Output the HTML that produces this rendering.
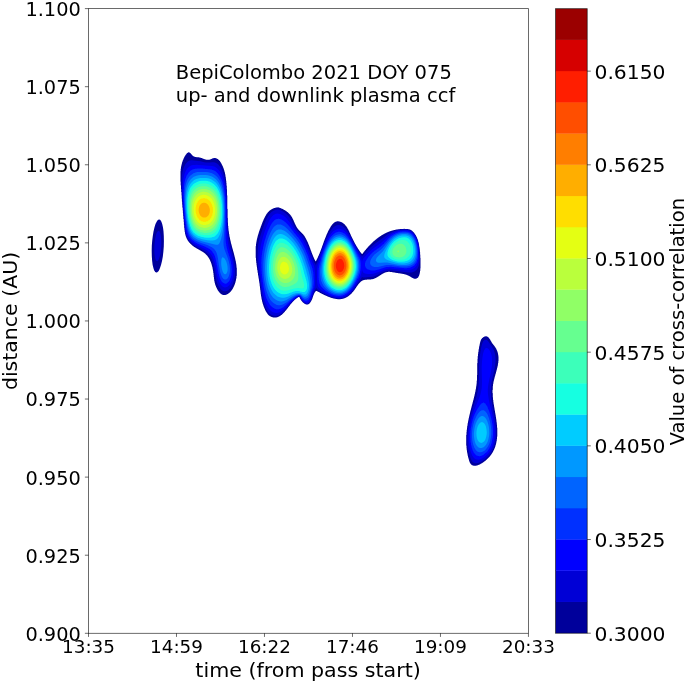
<!DOCTYPE html>
<html lang="en"><head><meta charset="utf-8"><title>BepiColombo 2021 DOY 075 up- and downlink plasma ccf</title>
<style>
html,body{margin:0;padding:0;background:#fff;}
body{width:685px;height:683px;overflow:hidden;}
svg{display:block;}
text{font-family:"DejaVu Sans","Liberation Sans",sans-serif;fill:#000;}
.yt{font-size:19.35px;text-anchor:end;}
.xt{font-size:18.35px;text-anchor:middle;}
.ct{font-size:20.3px;text-anchor:start;}
.ttl{font-size:19.5px;}
.sp{stroke:#000;stroke-opacity:.73;stroke-width:0.8;fill:none;}
</style></head><body>
<svg width="685" height="683" viewBox="0 0 685 683">
<rect width="685" height="683" fill="#fff"/>
<defs><filter id="soft" x="-5%" y="-5%" width="110%" height="110%"><feGaussianBlur stdDeviation="0.45"/></filter></defs>
<g id="ccf" filter="url(#soft)">
<path fill="#00009b" d="M225.5 295.0 223.0 295.0 222.8 294.8 222.2 294.8 222.0 294.5 221.8 294.5 221.2 294.0 221.0 294.0 219.0 292.0 219.0 291.8 218.2 291.0 218.2 290.8 217.7 290.2 217.7 290.0 217.5 289.8 217.5 289.5 217.2 289.2 217.2 289.0 217.0 288.8 217.0 288.5 216.7 288.2 216.7 288.0 216.5 287.8 216.5 287.5 216.2 287.2 216.2 287.0 216.0 286.8 216.0 286.2 215.7 286.0 215.7 285.8 215.5 285.5 215.5 285.0 215.2 284.8 215.2 284.2 215.0 284.0 215.0 283.2 214.7 283.0 214.7 282.2 214.5 282.0 214.5 281.0 214.2 280.8 214.2 279.2 214.0 279.0 214.0 277.2 213.7 277.0 213.7 275.0 213.5 274.8 213.5 273.0 213.2 272.8 213.2 271.2 213.0 271.0 213.0 269.8 212.7 269.5 212.7 268.5 212.5 268.2 212.5 267.2 212.2 267.0 212.2 266.2 212.0 266.0 212.0 265.5 211.7 265.2 211.7 264.5 211.5 264.2 211.5 263.8 211.2 263.5 211.2 263.0 211.0 262.8 211.0 262.2 210.7 262.0 210.7 261.8 210.5 261.5 210.5 261.2 210.2 261.0 210.2 260.5 210.0 260.2 210.0 260.0 209.7 259.8 209.7 259.5 209.5 259.2 209.5 259.0 209.0 258.5 209.0 258.2 208.7 258.0 208.7 257.8 208.2 257.2 208.2 257.0 207.5 256.2 207.5 256.0 206.2 254.8 204.8 253.3 204.5 253.3 203.8 252.5 203.5 252.5 203.0 252.0 202.8 252.0 202.2 251.5 202.0 251.5 201.8 251.3 201.5 251.3 201.0 250.8 200.8 250.8 200.5 250.5 200.2 250.5 200.0 250.3 199.8 250.3 199.2 249.8 199.0 249.8 198.8 249.5 198.5 249.5 198.2 249.3 198.0 249.3 197.8 249.0 197.5 249.0 197.0 248.5 196.8 248.5 196.5 248.3 196.2 248.3 195.8 247.8 195.5 247.8 195.2 247.5 195.0 247.5 194.5 247.0 194.2 247.0 193.8 246.5 193.5 246.5 192.8 245.8 192.5 245.8 190.8 244.0 190.5 244.0 190.5 243.8 189.0 242.2 189.0 242.0 188.2 241.2 188.2 241.0 187.7 240.5 187.7 240.2 187.5 240.0 187.5 239.8 187.0 239.2 187.0 239.0 186.7 238.8 186.7 238.2 186.5 238.0 186.5 237.8 186.2 237.5 186.2 237.2 186.0 237.0 186.0 236.5 185.7 236.2 185.7 235.8 185.5 235.5 185.5 234.8 185.2 234.5 185.2 233.8 185.0 233.5 185.0 232.2 184.7 232.0 184.7 230.5 184.5 230.2 184.4 228.0 184.2 227.8 184.2 225.0 183.9 224.8 183.9 222.0 183.7 221.8 183.7 219.2 183.4 219.0 183.4 216.2 183.2 216.0 183.2 213.5 182.9 213.2 182.9 210.5 182.7 210.2 182.7 207.8 182.4 207.5 182.4 204.8 182.2 204.5 182.2 201.8 181.9 201.5 181.9 198.8 181.7 198.5 181.7 195.5 181.5 195.2 181.5 192.2 181.2 192.0 181.2 189.0 181.0 188.8 181.0 185.5 180.7 185.2 180.7 181.8 180.5 181.5 180.5 171.2 180.7 171.0 180.7 168.8 181.0 168.5 181.0 167.0 181.2 166.8 181.2 165.8 181.5 165.5 181.5 164.8 181.7 164.5 181.7 163.8 182.0 163.5 182.0 162.8 182.2 162.5 182.2 162.0 182.5 161.8 182.5 161.2 182.7 161.0 182.7 160.5 183.0 160.2 183.0 160.0 183.2 159.8 183.2 159.5 183.5 159.2 183.5 158.8 183.7 158.5 183.7 158.2 184.0 158.0 184.0 157.8 184.2 157.5 184.2 157.2 184.5 157.0 184.5 156.8 184.7 156.5 184.7 156.2 185.2 155.8 185.2 155.5 185.7 155.0 185.7 154.8 186.5 154.0 186.5 153.8 187.2 153.0 187.5 153.0 188.0 152.5 188.2 152.5 188.5 152.2 189.0 152.2 189.2 152.5 189.5 152.5 189.8 152.7 190.0 152.7 191.5 154.2 191.5 154.5 191.8 154.8 193.0 156.0 193.2 156.0 193.8 156.5 194.2 156.5 194.5 156.7 194.8 156.7 195.0 157.0 196.2 157.0 196.5 157.2 198.8 157.2 199.0 157.5 200.0 157.5 200.2 157.7 201.0 157.7 201.2 158.0 201.8 158.0 202.0 158.2 202.2 158.2 202.5 158.5 203.0 158.5 203.2 158.7 203.5 158.7 203.8 159.0 204.2 159.0 204.5 159.2 205.0 159.2 205.2 159.5 206.0 159.5 206.2 159.7 209.5 159.7 209.8 159.5 210.2 159.5 210.5 159.2 211.0 159.2 211.2 159.0 211.5 159.0 211.8 158.7 212.0 158.7 212.2 158.5 212.5 158.5 212.8 158.2 213.5 158.2 213.8 158.0 215.5 158.0 215.8 158.2 216.2 158.2 216.5 158.5 216.8 158.5 217.0 158.7 217.2 158.7 217.5 159.0 217.8 159.0 220.0 161.2 220.0 161.5 220.5 162.0 220.5 162.2 221.0 162.8 221.0 163.0 221.3 163.2 221.3 163.5 221.5 163.8 221.5 164.0 221.8 164.2 221.8 164.5 222.0 164.8 222.0 165.0 222.3 165.2 222.3 165.5 222.5 165.8 222.5 166.0 222.8 166.2 222.8 166.5 223.0 166.8 223.0 167.2 223.3 167.5 223.3 167.8 223.5 168.0 223.5 168.5 223.8 168.8 223.8 169.2 224.0 169.5 224.0 170.0 224.3 170.2 224.3 171.0 224.5 171.2 224.5 171.8 224.8 172.0 224.8 172.8 225.0 173.0 225.0 174.0 225.3 174.2 225.3 175.2 225.5 175.5 225.5 176.8 225.8 177.0 225.8 178.5 226.0 178.8 226.0 180.5 226.3 180.8 226.3 182.8 226.5 183.0 226.5 185.5 226.8 185.8 226.8 189.2 227.0 189.5 227.0 195.2 227.3 195.5 227.3 208.8 227.6 209.0 227.6 217.8 227.8 218.0 227.8 222.5 228.0 222.8 228.0 225.8 228.3 226.0 228.3 228.2 228.5 228.5 228.5 230.5 228.8 230.8 228.8 232.2 229.0 232.5 229.0 234.0 229.3 234.2 229.3 235.5 229.5 235.8 229.5 236.8 229.8 237.0 229.8 238.0 230.0 238.2 230.0 239.2 230.3 239.5 230.3 240.2 230.5 240.5 230.5 241.2 230.8 241.5 230.8 242.5 231.0 242.8 231.0 243.5 231.3 243.8 231.3 244.2 231.5 244.5 231.5 245.2 231.8 245.5 231.8 246.2 232.0 246.5 232.0 247.2 232.3 247.5 232.3 248.0 232.5 248.2 232.5 249.0 232.8 249.2 232.8 249.8 233.0 250.0 233.0 250.8 233.3 251.0 233.3 251.8 233.5 252.0 233.5 252.5 233.8 252.8 233.8 253.5 234.0 253.8 234.0 254.5 234.3 254.8 234.3 255.5 234.5 255.8 234.5 256.5 234.8 256.8 234.8 257.5 235.0 257.8 235.0 258.5 235.3 258.8 235.3 259.8 235.5 260.0 235.5 260.8 235.8 261.0 235.8 262.2 236.0 262.5 236.0 263.5 236.3 263.8 236.3 265.2 236.5 265.5 236.5 267.5 236.8 267.8 236.8 275.8 236.5 276.0 236.5 277.8 236.3 278.0 236.3 279.0 236.0 279.2 236.0 280.2 235.8 280.5 235.8 281.2 235.5 281.5 235.5 282.2 235.3 282.5 235.3 283.0 235.0 283.2 235.0 283.8 234.8 284.0 234.8 284.5 234.5 284.8 234.5 285.0 234.3 285.2 234.3 285.8 234.0 286.0 234.0 286.2 233.8 286.5 233.8 286.8 233.5 287.0 233.5 287.2 233.3 287.5 233.3 287.8 233.0 288.0 233.0 288.2 232.8 288.5 232.8 288.8 232.3 289.2 232.3 289.5 231.8 290.0 231.8 290.2 231.0 291.0 231.0 291.2 229.2 293.0 229.0 293.0 228.2 293.8 228.0 293.8 227.8 294.0 227.5 294.0 227.0 294.5 226.5 294.5 226.2 294.8 225.8 294.8ZM276.5 317.5 273.2 317.5 273.0 317.3 272.2 317.3 272.0 317.0 271.5 317.0 271.2 316.8 271.0 316.8 270.8 316.5 270.5 316.5 270.2 316.3 270.0 316.3 269.5 315.8 269.2 315.8 267.7 314.2 267.7 314.0 267.0 313.2 267.0 313.0 266.5 312.5 266.5 312.2 266.2 312.0 266.2 311.8 265.7 311.2 265.7 311.0 265.5 310.8 265.5 310.5 265.2 310.2 265.2 310.0 265.0 309.8 265.0 309.2 264.7 309.0 264.7 308.8 264.5 308.5 264.5 308.2 264.2 308.0 264.2 307.5 264.0 307.2 264.0 307.0 263.7 306.8 263.7 306.2 263.5 306.0 263.5 305.5 263.2 305.2 263.2 304.8 263.0 304.5 263.0 304.0 262.7 303.8 262.7 303.2 262.5 303.0 262.5 302.2 262.2 302.0 262.2 301.2 262.0 301.0 262.0 300.0 261.7 299.8 261.7 299.0 261.5 298.8 261.5 297.5 261.2 297.2 261.2 296.0 261.0 295.8 261.0 294.5 260.7 294.2 260.7 292.5 260.5 292.2 260.5 290.5 260.2 290.2 260.2 288.5 260.0 288.2 260.0 286.5 259.7 286.2 259.7 284.5 259.5 284.2 259.5 282.8 259.2 282.5 259.2 281.2 259.0 281.0 259.0 279.5 258.7 279.2 258.7 278.0 258.5 277.8 258.5 276.5 258.2 276.2 258.2 275.0 258.0 274.8 258.0 273.2 257.7 273.0 257.7 271.8 257.5 271.5 257.5 270.2 257.2 270.0 257.2 268.5 257.0 268.2 257.0 266.8 256.7 266.5 256.7 265.0 256.5 264.8 256.5 263.0 256.2 262.8 256.2 260.8 256.0 260.5 256.0 258.0 255.7 257.8 255.7 246.2 256.0 246.0 256.0 244.0 256.2 243.8 256.2 242.5 256.5 242.2 256.5 241.0 256.7 240.8 256.7 239.8 257.0 239.5 257.0 238.8 257.2 238.5 257.2 237.8 257.5 237.5 257.5 236.8 257.7 236.5 257.7 235.8 258.0 235.5 258.0 235.0 258.2 234.8 258.2 234.2 258.5 234.0 258.5 233.2 258.7 233.0 258.7 232.5 259.0 232.2 259.0 231.8 259.2 231.5 259.2 231.0 259.5 230.8 259.5 230.2 259.7 230.0 259.7 229.5 260.0 229.2 260.0 229.0 260.2 228.8 260.2 228.2 260.5 228.0 260.5 227.5 260.7 227.2 260.7 226.8 261.0 226.5 261.0 226.2 261.2 226.0 261.2 225.5 261.5 225.2 261.5 224.8 261.7 224.5 261.7 224.2 262.0 224.0 262.0 223.5 262.2 223.2 262.2 222.8 262.5 222.5 262.5 222.2 262.7 222.0 262.7 221.5 263.0 221.2 263.0 221.0 263.2 220.8 263.2 220.5 263.5 220.2 263.5 219.8 263.7 219.5 263.7 219.2 264.0 219.0 264.0 218.8 264.2 218.5 264.2 218.2 264.5 218.0 264.5 217.8 264.7 217.5 264.7 217.2 265.0 217.0 265.0 216.8 265.2 216.5 265.2 216.2 265.5 216.0 265.5 215.8 266.0 215.2 266.0 215.0 266.2 214.8 266.2 214.5 266.7 214.0 266.7 213.8 267.5 213.0 267.5 212.8 270.0 210.2 270.2 210.2 270.8 209.7 271.0 209.7 271.5 209.2 271.8 209.2 272.0 209.0 272.2 209.0 272.5 208.7 272.8 208.7 273.0 208.5 273.2 208.5 273.5 208.2 274.0 208.2 274.2 208.0 274.8 208.0 275.0 207.7 275.8 207.7 276.0 207.5 277.5 207.5 277.8 207.2 278.2 207.2 278.5 207.5 279.0 207.5 279.2 207.7 279.8 207.7 280.0 208.0 280.5 208.0 280.8 208.2 281.0 208.2 281.2 208.5 281.5 208.5 281.8 208.7 282.2 208.7 282.5 209.0 282.8 209.0 283.0 209.2 283.2 209.2 283.8 209.7 284.0 209.7 284.2 210.0 284.5 210.0 284.8 210.2 285.0 210.2 285.5 210.7 285.8 210.7 286.2 211.2 286.5 211.2 287.2 212.0 287.5 212.0 290.5 215.0 290.5 215.2 291.3 216.0 291.3 216.2 291.5 216.5 291.5 216.8 292.0 217.2 292.0 217.5 292.3 217.8 292.3 218.0 292.5 218.2 292.5 218.5 292.8 218.8 292.8 219.0 293.0 219.2 293.0 219.5 293.3 219.8 293.3 220.0 293.5 220.2 293.5 220.5 293.8 220.8 293.8 221.2 294.0 221.5 294.0 221.8 294.3 222.0 294.3 222.2 294.5 222.5 294.5 223.0 294.8 223.2 294.8 223.5 295.0 223.8 295.0 224.0 295.3 224.2 295.3 224.5 295.5 224.8 295.5 225.0 295.8 225.2 295.8 225.5 296.0 225.8 296.0 226.0 296.3 226.2 296.3 226.5 296.5 226.8 296.5 227.0 297.0 227.5 297.0 227.8 297.5 228.2 297.5 228.5 298.3 229.2 298.3 229.5 303.5 234.8 303.5 235.0 304.3 235.8 304.3 236.0 304.8 236.5 304.8 236.8 305.0 237.0 305.0 237.2 305.5 237.8 305.5 238.0 305.8 238.2 305.8 238.5 306.0 238.8 306.0 239.0 306.3 239.2 306.3 239.5 306.5 239.8 306.5 240.0 306.8 240.2 306.8 240.5 307.0 240.8 307.0 241.0 307.3 241.2 307.3 241.5 307.5 241.8 307.5 242.0 307.8 242.2 307.8 242.5 308.0 242.8 308.0 243.2 308.3 243.5 308.3 243.8 308.5 244.0 308.5 244.5 308.8 244.8 308.8 245.0 309.0 245.2 309.0 245.8 309.3 246.0 309.3 246.2 309.5 246.5 309.5 247.0 309.8 247.2 309.8 247.8 310.0 248.0 310.0 248.2 310.3 248.5 310.3 249.0 310.5 249.2 310.5 249.8 310.8 250.0 310.8 250.5 311.0 250.8 311.0 251.0 311.3 251.2 311.3 251.8 311.5 252.0 311.5 252.5 311.8 252.8 311.8 253.0 312.0 253.2 312.0 253.8 312.3 254.0 312.3 254.2 312.5 254.5 312.5 255.0 312.8 255.2 312.8 255.5 313.0 255.8 313.0 256.2 313.3 256.5 313.3 256.8 313.5 257.0 313.5 257.2 313.8 257.5 313.8 258.0 314.0 258.2 314.0 258.5 314.3 258.8 314.3 259.0 314.5 259.2 314.5 259.5 314.8 259.8 314.8 260.0 315.0 260.2 315.0 260.5 315.3 260.8 315.3 261.0 315.5 261.2 315.8 261.2 316.2 260.8 316.2 260.5 316.5 260.2 316.5 260.0 316.7 259.8 316.7 259.5 317.0 259.2 317.0 259.0 317.2 258.8 317.2 258.5 317.5 258.2 317.5 258.0 317.7 257.8 317.7 257.5 318.0 257.2 318.0 256.8 318.2 256.5 318.2 256.2 318.5 256.0 318.5 255.8 318.7 255.5 318.7 255.2 319.0 255.0 319.0 254.5 319.2 254.2 319.2 254.0 319.5 253.8 319.5 253.5 319.7 253.2 319.7 252.8 320.0 252.5 320.0 252.2 320.2 252.0 320.2 251.5 320.5 251.2 320.5 250.8 320.7 250.5 320.7 250.2 321.0 250.0 321.0 249.5 321.2 249.2 321.2 248.8 321.5 248.5 321.5 248.2 321.7 248.0 321.7 247.5 322.0 247.2 322.0 246.8 322.2 246.5 322.2 246.0 322.5 245.8 322.5 245.2 322.7 245.0 322.7 244.8 323.0 244.5 323.0 244.0 323.2 243.8 323.2 243.2 323.5 243.0 323.5 242.5 323.7 242.2 323.7 241.8 324.0 241.5 324.0 241.2 324.2 241.0 324.2 240.5 324.5 240.2 324.5 239.8 324.7 239.5 324.7 239.2 325.0 239.0 325.0 238.5 325.2 238.2 325.2 238.0 325.5 237.8 325.5 237.2 325.7 237.0 325.7 236.8 326.0 236.5 326.0 236.0 326.2 235.8 326.2 235.5 326.5 235.2 326.5 234.8 326.7 234.5 326.7 234.2 327.0 234.0 327.0 233.8 327.2 233.5 327.2 233.2 327.5 233.0 327.5 232.8 327.7 232.5 327.7 232.0 328.0 231.8 328.0 231.5 328.2 231.2 328.2 231.0 328.5 230.8 328.5 230.5 328.7 230.2 328.7 230.0 329.2 229.5 329.2 229.2 329.5 229.0 329.5 228.8 329.7 228.5 329.7 228.2 330.0 228.0 330.0 227.8 330.5 227.2 330.5 227.0 330.7 226.8 330.7 226.5 331.2 226.0 331.2 225.8 332.0 225.0 332.0 224.8 334.2 222.5 334.5 222.5 335.0 222.0 335.2 222.0 335.5 221.7 336.0 221.7 336.2 221.5 337.0 221.5 337.2 221.2 338.5 221.2 338.8 221.5 339.8 221.5 340.0 221.7 340.5 221.7 340.8 222.0 341.2 222.0 341.5 222.2 341.8 222.2 342.0 222.5 342.2 222.5 342.8 223.0 343.0 223.0 344.0 224.0 344.2 224.0 345.0 224.8 345.0 225.0 346.3 226.2 346.3 226.5 346.8 227.0 346.8 227.2 347.3 227.8 347.3 228.0 347.5 228.2 347.5 228.5 347.8 228.8 347.8 229.0 348.3 229.5 348.3 229.8 348.5 230.0 348.5 230.2 348.8 230.5 348.8 230.8 349.0 231.0 349.0 231.2 349.3 231.5 349.3 231.8 349.5 232.0 349.5 232.5 349.8 232.8 349.8 233.0 350.0 233.2 350.0 233.5 350.3 233.8 350.3 234.0 350.5 234.2 350.5 234.5 350.8 234.8 350.8 235.2 351.0 235.5 351.0 235.8 351.3 236.0 351.3 236.2 351.5 236.5 351.5 236.8 351.8 237.0 351.8 237.2 352.0 237.5 352.0 237.8 352.3 238.0 352.3 238.2 352.5 238.5 352.5 238.8 352.8 239.0 352.8 239.2 353.0 239.5 353.0 239.8 353.3 240.0 353.3 240.2 353.5 240.5 353.5 240.8 353.8 241.0 353.8 241.2 354.0 241.5 354.0 241.8 354.3 242.0 354.3 242.2 354.5 242.5 354.5 242.8 354.8 243.0 354.8 243.2 355.0 243.5 355.0 243.8 355.5 244.2 355.5 244.5 355.8 244.8 355.8 245.0 356.0 245.2 356.0 245.5 356.5 246.0 356.5 246.2 356.8 246.5 356.8 246.8 357.3 247.2 357.3 247.5 357.5 247.8 357.5 248.0 358.0 248.5 358.0 248.8 358.5 249.2 358.5 249.5 359.0 250.0 359.0 250.2 359.5 250.8 359.5 251.0 360.0 251.5 360.0 251.8 360.8 252.5 360.8 252.8 362.0 254.0 362.2 254.0 363.0 253.2 363.0 253.0 363.7 252.2 363.7 252.0 364.7 251.0 364.7 250.8 366.0 249.5 366.0 249.2 367.7 247.5 367.7 247.2 374.2 240.7 374.5 240.7 375.8 239.5 376.0 239.5 377.0 238.5 377.2 238.5 378.0 237.7 378.2 237.7 379.0 237.0 379.2 237.0 379.8 236.5 380.0 236.5 380.5 236.0 380.8 236.0 381.2 235.5 381.5 235.5 382.0 235.0 382.2 235.0 382.5 234.7 382.8 234.7 383.0 234.5 383.2 234.5 383.8 234.0 384.0 234.0 384.2 233.7 384.5 233.7 384.8 233.5 385.0 233.5 385.2 233.2 385.5 233.2 385.8 233.0 386.0 233.0 386.2 232.7 386.5 232.7 386.8 232.5 387.0 232.5 387.2 232.2 387.8 232.2 388.0 232.0 388.2 232.0 388.5 231.7 389.0 231.7 389.2 231.5 389.5 231.5 389.8 231.2 390.2 231.2 390.5 231.0 391.0 231.0 391.2 230.7 392.0 230.7 392.2 230.5 392.8 230.5 393.0 230.2 393.8 230.2 394.0 230.0 394.8 230.0 395.0 229.7 396.0 229.7 396.2 229.5 397.5 229.5 397.8 229.2 399.5 229.2 399.8 229.0 403.5 229.0 403.8 228.7 404.0 228.7 404.5 228.7 404.8 229.0 408.0 229.0 408.2 229.2 409.2 229.2 409.5 229.5 410.0 229.5 410.2 229.7 410.5 229.7 410.8 230.0 411.0 230.0 411.5 230.5 411.8 230.5 414.3 233.0 414.3 233.2 414.8 233.8 414.8 234.0 415.3 234.5 415.3 234.8 415.8 235.2 415.8 235.5 416.1 235.8 416.1 236.0 416.3 236.2 416.3 236.5 416.6 236.8 416.6 237.0 416.8 237.2 416.8 237.5 417.1 237.8 417.1 238.2 417.3 238.5 417.3 238.8 417.6 239.0 417.6 239.5 417.8 239.8 417.8 240.2 418.1 240.5 418.1 241.2 418.3 241.5 418.3 242.0 418.6 242.2 418.6 243.0 418.8 243.2 418.8 244.2 419.1 244.5 419.1 245.8 419.3 246.0 419.3 247.2 419.6 247.5 419.6 249.2 419.8 249.5 419.8 251.5 420.1 251.8 420.1 254.5 420.3 254.8 420.3 257.8 420.5 258.0 420.5 268.2 420.3 268.5 420.3 270.8 420.0 271.0 420.0 272.2 419.8 272.5 419.8 273.5 419.5 273.8 419.5 274.5 419.3 274.8 419.3 275.2 419.0 275.5 419.0 275.8 418.8 276.0 418.8 276.2 418.5 276.5 418.5 276.8 418.3 277.0 418.3 277.2 417.5 278.0 417.2 278.0 416.8 278.5 416.2 278.5 416.0 278.8 415.8 278.8 414.2 278.8 414.0 278.5 413.5 278.5 413.2 278.3 413.0 278.3 412.8 278.0 412.5 278.0 412.2 277.8 412.0 277.8 411.8 277.5 411.5 277.5 411.0 277.0 410.8 277.0 410.2 276.5 410.0 276.5 409.8 276.3 409.5 276.3 409.2 276.0 409.0 276.0 408.8 275.8 408.5 275.8 408.2 275.5 408.0 275.5 407.8 275.3 407.2 275.3 407.0 275.0 406.8 275.0 406.5 274.8 406.0 274.8 405.8 274.5 405.0 274.5 404.8 274.3 404.0 274.3 403.8 274.0 402.8 274.0 402.5 273.8 401.5 273.8 401.2 273.5 399.8 273.5 399.5 273.3 398.0 273.3 397.8 273.0 396.5 273.0 396.2 272.8 395.0 272.8 394.8 272.5 393.5 272.5 393.2 272.3 392.0 272.3 391.8 272.0 390.0 272.0 389.8 271.8 388.2 271.8 388.0 272.0 386.8 272.0 386.5 272.3 385.8 272.3 385.5 272.5 385.0 272.5 384.8 272.8 384.5 272.8 384.2 273.0 384.0 273.0 383.8 273.3 383.5 273.3 383.2 273.5 383.0 273.5 382.8 273.8 382.5 273.8 382.0 274.3 381.8 274.3 381.5 274.5 381.2 274.5 380.8 275.0 380.5 275.0 380.0 275.5 379.8 275.5 379.2 276.0 379.0 276.0 378.5 276.5 378.2 276.5 378.0 276.8 377.8 276.8 377.2 277.3 377.0 277.3 376.8 277.5 376.5 277.5 376.2 277.8 376.0 277.8 375.8 278.0 375.5 278.0 375.2 278.3 375.0 278.3 374.8 278.5 374.2 278.5 374.0 278.8 373.8 278.8 373.5 279.0 372.8 279.0 372.5 279.3 371.2 279.3 371.0 279.5 367.0 279.5 366.8 279.8 364.8 279.8 364.5 280.0 363.8 280.0 363.5 280.3 363.0 280.3 362.8 280.5 362.5 280.5 362.2 280.8 362.0 280.8 361.5 281.3 361.2 281.3 358.3 284.2 358.3 284.5 357.8 285.0 357.8 285.2 357.0 286.0 357.0 286.2 356.5 286.8 356.5 287.0 356.0 287.5 356.0 287.8 355.5 288.2 355.5 288.5 355.0 289.0 355.0 289.2 354.3 290.0 354.3 290.2 353.5 291.0 353.5 291.2 352.0 292.8 352.0 293.0 350.5 294.5 350.2 294.5 349.0 295.8 348.8 295.8 348.0 296.5 347.8 296.5 347.2 297.0 347.0 297.0 346.8 297.3 346.5 297.3 346.2 297.5 346.0 297.5 345.8 297.8 345.5 297.8 345.2 298.0 345.0 298.0 344.8 298.3 344.2 298.3 344.0 298.5 343.5 298.5 343.2 298.8 342.5 298.8 342.2 299.0 340.8 299.0 340.5 299.3 337.5 299.3 337.2 299.0 335.8 299.0 335.5 298.8 334.5 298.8 334.2 298.5 333.2 298.5 333.0 298.3 332.5 298.3 332.2 298.0 331.5 298.0 331.2 297.8 330.8 297.8 330.5 297.5 330.2 297.5 330.0 297.3 329.5 297.3 329.2 297.0 328.8 297.0 328.5 296.8 328.2 296.8 328.0 296.5 327.5 296.5 327.2 296.3 327.0 296.3 326.8 296.0 326.5 296.0 326.2 295.8 326.0 295.8 325.8 295.5 325.2 295.5 325.0 295.3 324.8 295.3 324.5 295.0 324.2 295.0 324.0 294.8 323.8 294.8 323.5 294.5 323.2 294.5 323.0 294.3 322.8 294.3 322.5 294.0 322.2 294.0 322.0 293.8 321.8 293.8 321.5 293.5 321.2 293.5 321.0 293.3 320.8 293.3 320.5 293.0 320.2 293.0 319.8 292.5 319.5 292.5 319.2 292.3 319.0 292.3 318.8 292.0 318.5 292.0 318.2 291.8 318.0 291.8 317.8 291.5 317.5 291.5 317.2 291.3 317.0 291.3 316.8 291.0 316.0 291.0 315.0 292.0 315.0 292.2 314.5 292.8 314.5 293.0 314.3 293.2 314.3 293.5 314.0 293.8 314.0 294.0 313.8 294.2 313.8 294.8 313.5 295.0 313.5 295.2 313.3 295.5 313.3 296.0 313.0 296.2 313.0 296.8 312.8 297.0 312.8 297.5 312.5 297.8 312.5 298.2 312.3 298.5 312.3 299.0 312.0 299.2 312.0 299.5 311.8 299.8 311.8 300.0 311.5 300.2 311.5 300.5 311.3 300.8 311.3 301.0 311.0 301.2 311.0 301.5 310.5 302.0 310.5 302.2 309.8 303.0 309.8 303.2 309.2 303.8 309.0 303.8 308.5 304.3 308.2 304.3 308.0 304.5 307.0 304.5 306.0 304.5 305.8 304.3 305.5 304.3 305.2 304.0 305.0 304.0 304.8 303.8 304.5 303.8 303.5 302.8 303.2 302.8 302.8 302.3 302.4 302.0 302.4 301.8 301.4 300.8 301.4 300.5 300.9 300.0 300.9 299.8 300.4 299.2 300.4 299.0 300.2 298.8 300.2 298.5 299.9 298.2 299.9 298.0 299.7 297.8 299.7 297.5 299.4 297.2 299.4 297.0 299.2 296.8 299.0 296.8 298.8 297.1 298.5 297.1 298.2 297.3 298.0 297.3 297.5 297.8 297.2 297.8 296.5 298.6 296.2 298.6 295.2 299.6 295.0 299.6 292.1 302.5 292.1 302.8 290.5 304.2 290.5 304.5 289.8 305.2 289.8 305.5 288.8 306.5 288.8 306.8 288.0 307.5 288.0 307.8 287.3 308.5 287.3 308.8 286.3 309.8 286.3 310.0 285.0 311.2 285.0 311.5 281.5 315.0 281.2 315.0 280.8 315.5 280.5 315.5 280.0 316.0 279.8 316.0 279.2 316.5 279.0 316.5 278.8 316.8 278.2 316.8 278.0 317.0 277.8 317.0 277.5 317.3 276.8 317.3ZM156.5 272.5 155.8 272.3 155.2 271.9 154.8 271.3 154.2 270.4 153.8 269.2 153.4 268.0 152.6 264.8 152.1 260.5 151.8 256.0 151.7 251.0 151.8 245.8 152.2 240.8 152.8 236.0 153.5 231.5 154.5 227.2 155.5 224.1 156.0 222.9 156.8 221.5 157.2 220.7 158.0 219.9 158.8 219.5 159.2 219.5 160.0 219.8 160.5 220.2 161.0 220.9 161.4 221.8 162.2 224.0 163.0 227.4 163.5 231.2 163.8 236.0 163.9 241.0 163.8 246.2 163.4 251.5 162.8 256.7 162.0 261.0 161.0 265.0 160.0 268.1 159.5 269.3 158.8 270.7 158.2 271.4 157.5 272.1 157.0 272.4ZM476.2 465.8 473.5 465.8 473.2 465.5 472.8 465.5 472.5 465.3 472.0 465.3 470.5 463.8 470.5 463.5 470.0 463.0 470.0 462.8 469.7 462.5 469.7 462.0 469.5 461.8 469.5 461.5 469.2 461.2 469.2 460.8 469.0 460.5 469.0 459.8 468.7 459.5 468.7 459.0 468.5 458.8 468.5 458.0 468.2 457.8 468.2 457.0 468.0 456.8 468.0 456.0 467.7 455.8 467.7 454.8 467.5 454.5 467.5 453.5 467.2 453.2 467.2 452.2 467.0 452.0 467.0 450.5 466.7 450.2 466.7 448.5 466.5 448.2 466.5 445.8 466.2 445.5 466.2 435.0 466.5 434.8 466.5 432.0 466.7 431.8 466.7 429.8 467.0 429.5 467.0 427.8 467.2 427.5 467.2 426.0 467.5 425.8 467.5 424.5 467.7 424.2 467.7 423.0 468.0 422.8 468.0 421.8 468.2 421.5 468.2 420.5 468.5 420.2 468.5 419.2 468.7 419.0 468.7 418.0 469.0 417.8 469.0 417.0 469.2 416.8 469.2 415.8 469.5 415.5 469.5 414.8 469.7 414.5 469.7 413.8 470.0 413.5 470.0 412.8 470.2 412.5 470.2 411.5 470.5 411.2 470.5 410.5 470.7 410.2 470.7 409.8 471.0 409.5 471.0 408.8 471.2 408.5 471.2 407.8 471.5 407.5 471.5 406.8 471.7 406.5 471.7 405.8 472.0 405.5 472.0 405.0 472.2 404.8 472.2 404.0 472.5 403.8 472.5 403.0 472.7 402.8 472.7 402.0 473.0 401.8 473.0 401.0 473.2 400.8 473.2 400.2 473.5 400.0 473.5 399.2 473.7 399.0 473.7 398.2 474.0 398.0 474.0 397.2 474.2 397.0 474.2 396.2 474.5 396.0 474.5 395.0 474.7 394.8 474.7 394.0 475.0 393.8 475.0 392.8 475.2 392.5 475.2 391.8 475.5 391.5 475.5 390.2 475.7 390.0 475.7 389.0 476.0 388.8 476.0 387.5 476.2 387.2 476.2 385.8 476.5 385.5 476.5 383.8 476.7 383.5 476.7 380.8 477.0 380.5 477.0 375.2 477.2 375.0 477.2 363.2 477.5 363.0 477.5 359.0 477.7 358.8 477.7 356.2 478.0 356.0 478.0 354.0 478.2 353.8 478.2 352.2 478.5 352.0 478.5 350.5 478.7 350.2 478.7 349.0 479.0 348.8 479.0 347.5 479.2 347.2 479.2 346.2 479.5 346.0 479.5 345.0 479.7 344.8 479.7 343.8 480.0 343.5 480.0 342.8 480.2 342.5 480.2 341.8 480.5 341.5 480.5 341.0 480.7 340.8 480.7 340.2 481.0 340.0 481.0 339.8 481.2 339.5 481.2 339.2 482.0 338.5 482.0 338.2 482.2 338.0 482.5 338.0 483.5 337.0 483.8 337.0 484.0 336.7 484.2 336.7 484.5 336.5 485.2 336.5 485.5 336.2 486.5 336.2 486.8 336.5 487.2 336.5 487.8 337.0 488.0 337.0 489.0 338.0 489.0 338.2 489.8 339.0 489.8 339.2 490.3 339.8 490.3 340.0 490.5 340.2 490.5 340.5 490.8 340.8 490.8 341.0 491.3 341.5 491.3 341.8 491.5 342.0 491.5 342.2 492.0 342.8 492.0 343.0 492.5 343.5 492.5 343.8 493.3 344.5 493.3 344.8 494.3 345.8 494.3 346.0 495.0 346.8 495.0 347.0 495.5 347.5 495.5 347.8 495.8 348.0 495.8 348.2 496.3 348.8 496.3 349.0 496.5 349.2 496.5 349.8 496.8 350.0 496.8 350.2 497.0 350.5 497.0 350.8 497.3 351.0 497.3 351.5 497.5 351.8 497.5 352.2 497.8 352.5 497.8 353.2 498.0 353.5 498.0 354.5 498.3 354.8 498.3 356.2 498.5 356.5 498.5 361.0 498.3 361.2 498.3 363.0 498.0 363.2 498.0 364.5 497.8 364.8 497.8 366.0 497.5 366.2 497.5 367.0 497.3 367.2 497.3 368.0 497.0 368.2 497.0 369.0 496.8 369.2 496.8 370.0 496.5 370.2 496.5 371.0 496.3 371.2 496.3 371.8 496.0 372.0 496.0 372.8 495.8 373.0 495.8 373.8 495.5 374.0 495.5 374.5 495.3 374.8 495.3 375.5 495.0 375.8 495.0 376.2 494.8 376.5 494.8 377.2 494.5 377.5 494.5 378.2 494.3 378.5 494.3 379.2 494.0 379.5 494.0 380.2 493.8 380.5 493.8 381.2 493.5 381.5 493.5 382.5 493.3 382.8 493.3 384.0 493.0 384.2 493.0 386.0 492.8 386.2 492.8 389.8 492.5 390.0 492.5 393.0 492.8 393.2 492.8 397.2 493.0 397.5 493.0 399.8 493.3 400.0 493.3 401.8 493.5 402.0 493.5 403.5 493.8 403.8 493.8 405.0 494.0 405.2 494.0 406.5 494.3 406.8 494.3 408.0 494.5 408.2 494.5 409.5 494.8 409.8 494.8 411.0 495.0 411.2 495.0 412.5 495.3 412.8 495.3 413.8 495.5 414.0 495.5 415.2 495.8 415.5 495.8 417.0 496.0 417.2 496.0 418.5 496.3 418.8 496.3 420.2 496.5 420.5 496.5 422.2 496.8 422.5 496.8 424.5 497.0 424.8 497.0 427.5 497.3 427.8 497.3 436.5 497.0 436.8 497.0 439.0 496.8 439.2 496.8 440.8 496.5 441.0 496.5 442.0 496.3 442.2 496.3 443.2 496.0 443.5 496.0 444.2 495.8 444.5 495.8 445.0 495.5 445.2 495.5 446.0 495.3 446.2 495.3 446.8 495.0 447.0 495.0 447.5 494.8 447.8 494.8 448.0 494.5 448.2 494.5 448.8 494.3 449.0 494.3 449.2 494.0 449.5 494.0 449.8 493.8 450.0 493.8 450.2 493.5 450.5 493.5 450.8 493.3 451.0 493.3 451.2 493.0 451.5 493.0 451.8 492.8 452.0 492.8 452.2 492.3 452.8 492.3 453.0 492.0 453.2 492.0 453.5 491.5 454.0 491.5 454.2 490.8 455.0 490.8 455.2 490.0 456.0 490.0 456.2 485.5 460.8 485.2 460.8 484.5 461.5 484.2 461.5 483.5 462.3 483.2 462.3 482.8 462.8 482.5 462.8 482.0 463.3 481.8 463.3 481.5 463.5 481.2 463.5 481.0 463.8 480.8 463.8 480.2 464.3 480.0 464.3 479.8 464.5 479.5 464.5 479.2 464.8 478.8 464.8 478.5 465.0 478.2 465.0 478.0 465.3 477.5 465.3 477.2 465.5 476.5 465.5Z"/>
<path fill="#0000d6" d="M225.2 291.3 224.0 291.2 223.0 290.9 222.0 290.3 221.2 289.7 220.2 288.6 219.4 287.5 218.5 286.0 217.8 284.5 216.9 282.2 216.2 280.0 216.1 279.0 215.9 278.2 215.7 277.0 215.5 276.2 215.3 274.8 215.1 274.0 215.0 272.8 214.8 272.0 214.7 271.0 214.5 270.2 214.5 269.5 214.3 268.8 213.9 266.8 213.2 264.0 212.5 261.5 211.8 259.8 210.9 258.0 209.7 256.0 208.8 254.7 205.9 252.0 203.2 250.2 200.0 248.5 198.2 247.7 197.8 247.4 195.8 246.3 194.2 245.4 193.0 244.6 190.0 241.8 189.6 241.2 189.1 240.8 188.6 240.0 188.2 239.2 187.8 238.8 187.4 237.8 186.7 236.5 186.1 235.0 186.1 234.5 185.9 234.0 185.8 233.5 185.6 233.0 185.5 232.0 185.3 231.5 185.2 230.5 185.0 229.8 184.9 228.0 184.7 227.2 184.6 225.0 184.6 224.8 184.4 224.5 184.4 224.2 184.3 222.0 184.3 221.8 184.1 221.5 184.1 219.2 184.0 219.0 183.8 218.8 183.8 216.2 183.7 216.0 183.6 215.8 183.5 213.5 183.3 213.0 183.3 210.5 183.1 210.0 183.1 207.8 183.0 207.5 182.8 207.2 182.8 204.8 182.8 204.5 182.6 204.2 182.6 201.8 182.5 201.5 182.4 201.2 182.4 201.0 182.4 198.8 182.2 198.0 182.2 195.5 182.0 194.8 182.0 192.2 181.8 191.5 181.9 189.0 181.7 188.2 181.8 185.5 181.6 184.8 181.7 181.8 181.6 180.8 181.9 176.0 182.4 172.2 182.7 171.2 183.0 169.8 183.6 168.0 184.1 166.8 185.5 164.0 186.8 162.4 187.5 161.7 188.2 161.2 189.2 160.8 190.0 160.5 191.0 160.3 192.0 160.3 197.8 160.9 200.5 161.3 204.2 162.2 206.0 162.5 209.8 162.5 211.8 162.3 213.5 162.2 215.0 162.5 216.0 162.9 217.0 163.4 218.3 164.5 219.5 166.0 220.6 167.5 221.3 168.8 222.4 171.0 223.4 173.8 223.9 175.5 224.2 176.2 224.3 177.0 224.5 177.8 224.7 178.8 224.9 179.2 225.0 180.8 225.3 181.2 225.4 183.0 225.6 183.5 225.7 185.5 226.0 186.2 226.1 189.2 226.4 190.0 226.5 195.2 226.8 196.0 226.9 208.8 227.1 209.2 227.1 209.5 227.1 217.8 227.3 218.5 227.3 222.5 227.5 223.2 227.4 225.8 227.7 226.5 227.6 228.2 227.8 229.0 227.8 230.5 228.0 231.2 228.0 232.5 228.2 233.0 228.2 234.2 228.4 234.8 228.4 235.8 228.6 236.2 228.6 237.0 228.7 237.5 228.8 238.2 228.9 238.8 228.9 239.5 229.1 240.0 229.1 240.5 229.5 242.0 229.6 242.8 229.8 243.8 230.1 245.0 230.7 247.8 232.8 255.5 234.2 261.8 234.3 262.5 234.7 264.5 234.8 265.5 234.9 266.2 235.0 267.8 235.2 268.5 235.2 269.0 235.1 274.8 234.9 275.8 234.8 277.0 233.9 280.5 233.6 281.5 232.8 283.8 232.1 285.2 231.2 286.8 230.7 287.5 229.5 289.0 228.5 289.9 227.8 290.4 226.5 291.0ZM276.2 315.8 275.8 315.9 274.0 315.8 272.2 315.3 271.0 314.7 270.0 314.0 269.4 313.5 268.0 311.7 266.6 309.5 265.1 306.2 263.7 302.5 263.3 301.0 263.1 300.5 263.0 299.8 262.5 298.2 262.4 297.2 262.2 296.8 262.2 295.8 261.9 295.2 261.9 294.2 261.7 293.8 261.6 292.5 261.4 291.8 261.3 290.2 261.1 289.8 261.0 288.2 260.8 287.8 260.8 286.2 260.6 285.8 260.5 284.2 260.3 283.8 260.3 282.5 260.1 282.0 260.0 281.0 259.8 280.5 259.8 279.2 259.6 278.8 259.6 277.8 259.4 277.2 259.3 276.2 259.1 275.8 259.1 274.8 258.9 274.2 258.9 273.0 258.7 272.5 258.7 271.5 258.5 271.0 258.5 270.0 258.3 269.5 258.3 268.2 258.1 267.8 258.1 266.5 258.0 266.0 257.9 264.8 257.8 264.0 257.7 262.8 257.6 262.0 257.6 260.5 257.5 259.8 257.5 257.8 257.4 257.0 257.8 248.8 257.9 247.2 258.1 246.2 258.2 244.8 259.1 240.5 259.9 237.5 261.1 233.5 262.1 230.5 265.1 222.2 266.1 220.0 267.6 217.0 268.8 215.0 270.0 213.5 271.2 212.2 273.0 211.0 274.5 210.2 275.8 209.9 276.8 209.7 278.0 209.6 279.8 210.1 282.0 211.0 283.8 212.0 285.2 213.1 286.4 214.0 287.2 214.8 288.5 216.0 289.3 217.0 290.5 218.8 291.8 221.0 293.2 223.8 295.5 227.9 297.4 230.5 302.0 235.5 303.3 237.2 304.4 239.0 306.5 243.0 308.2 247.0 308.7 248.2 309.1 249.0 309.8 251.0 310.1 251.8 310.6 253.0 310.9 253.8 311.1 254.2 311.9 256.2 312.0 256.8 312.6 258.0 312.7 258.5 313.9 261.8 314.2 262.4 315.2 263.8 315.5 264.5 315.8 265.4 316.0 265.0 316.2 264.2 316.5 263.5 317.4 261.8 318.1 259.5 318.8 257.8 318.9 257.2 320.9 252.2 321.2 251.2 321.7 250.2 322.0 249.2 322.4 248.2 323.3 245.8 323.8 244.8 324.7 242.2 325.0 241.5 325.5 240.2 325.9 239.5 326.1 239.0 327.9 235.2 329.5 232.4 330.2 231.2 331.8 229.2 332.8 228.0 333.5 227.2 334.8 226.3 335.8 225.7 336.8 225.3 338.0 225.1 339.0 225.0 340.2 225.2 341.2 225.5 342.8 226.3 344.2 227.4 345.6 228.8 347.1 230.8 348.2 232.5 348.5 233.0 349.8 235.2 350.0 235.8 351.8 239.0 354.5 244.2 354.8 244.5 355.5 246.0 355.8 246.3 356.2 247.2 356.5 247.6 356.9 248.5 358.2 250.5 359.3 252.5 359.7 253.0 360.0 253.6 361.0 255.0 362.0 256.0 363.0 255.4 363.5 255.0 366.4 251.5 369.6 248.2 372.5 245.7 375.2 243.4 380.1 240.0 385.4 236.0 387.8 234.3 390.5 232.8 393.5 231.4 394.0 231.3 394.5 231.1 395.0 231.0 395.5 230.7 396.2 230.6 396.8 230.4 397.8 230.3 398.2 230.1 399.8 229.9 400.2 229.7 403.5 229.6 404.2 229.5 404.8 229.6 407.5 229.6 408.0 229.8 408.8 229.9 409.8 230.2 410.8 230.7 411.0 230.9 411.5 231.2 413.7 233.2 414.5 234.5 414.8 234.8 415.0 235.2 415.3 235.5 416.6 238.0 416.7 238.5 417.1 239.2 417.5 240.5 417.6 240.8 417.7 241.5 417.9 241.8 418.0 242.2 418.2 242.5 418.2 243.2 418.4 243.5 418.4 244.2 418.7 244.8 418.7 245.8 418.9 246.2 418.9 247.2 419.2 247.8 419.2 249.2 419.4 249.8 419.4 251.5 419.6 252.2 419.6 254.5 419.8 255.2 419.7 257.8 419.8 258.5 419.6 261.2 419.3 263.5 418.8 265.5 418.3 267.0 417.4 268.8 416.8 269.6 415.8 270.6 414.8 271.3 413.8 271.8 412.5 272.3 411.2 272.5 410.0 272.6 408.2 272.4 392.0 270.5 390.8 270.5 389.8 270.4 388.2 270.5 387.2 270.7 386.5 270.8 384.5 271.4 381.8 272.6 377.5 274.9 376.2 275.5 374.2 276.3 372.8 276.7 370.0 277.1 366.8 277.3 365.8 277.4 363.5 277.4 362.5 277.3 362.0 277.1 361.2 278.5 357.5 283.5 356.8 284.8 356.4 285.2 354.2 288.8 353.0 290.3 352.7 290.8 351.5 292.0 351.0 292.7 350.2 293.5 349.5 294.0 348.5 295.0 346.8 296.2 344.2 297.4 341.8 298.2 340.5 298.3 340.0 298.4 339.0 298.4 338.0 298.4 337.5 298.3 336.2 298.2 335.8 298.0 335.0 298.0 334.5 297.8 333.8 297.7 332.5 297.2 332.0 297.2 330.2 296.5 329.2 296.2 328.4 295.8 328.0 295.6 326.2 294.7 325.8 294.6 321.0 292.0 320.5 291.6 318.8 290.5 317.8 289.7 316.8 288.7 316.5 288.2 316.2 287.6 316.0 287.9 315.6 289.0 314.2 291.2 313.8 292.2 312.7 295.2 311.6 298.8 310.3 301.2 310.1 301.5 309.8 302.0 309.3 302.5 309.0 303.0 308.0 303.6 307.5 303.9 307.2 303.9 306.5 303.9 306.2 303.8 304.8 303.2 304.0 302.5 303.5 302.3 303.2 302.1 302.9 301.8 302.8 301.4 302.0 300.7 301.8 300.2 301.3 299.8 301.2 299.5 300.8 299.0 299.6 296.8 299.5 296.6 299.2 296.5 298.8 296.6 297.8 297.1 297.2 297.5 297.0 297.5 296.5 298.0 296.0 298.3 295.2 299.0 294.7 299.2 291.8 302.1 291.5 302.5 290.2 303.8 289.9 304.2 289.4 304.8 289.1 305.2 288.4 306.0 288.1 306.5 287.5 307.0 287.3 307.5 286.8 308.0 286.4 308.5 285.8 309.1 285.5 309.5 284.5 310.5 284.0 311.2 282.0 312.9 281.0 313.8 278.5 315.2 277.0 315.7ZM157.5 261.1 157.0 261.2 156.8 261.1 156.5 261.0 156.1 260.5 155.5 259.4 155.0 257.6 154.7 255.5 154.4 253.0 154.3 250.2 154.3 247.2 154.5 244.2 154.8 241.4 155.2 238.2 155.8 235.8 156.2 234.1 157.0 232.3 157.8 231.2 158.2 230.9 158.5 230.8 159.0 230.9 159.2 231.1 159.8 231.8 160.2 233.1 160.7 235.0 161.0 237.0 161.2 239.8 161.3 242.2 161.3 245.0 161.1 248.0 160.8 250.8 160.5 253.0 160.0 255.5 159.5 257.4 158.8 259.4 158.2 260.3 157.9 260.8ZM477.5 463.1 476.5 463.2 475.2 463.2 474.5 463.0 474.0 462.8 473.0 462.2 472.3 461.5 471.5 460.2 470.5 458.0 469.8 456.0 468.5 451.2 468.4 450.2 468.2 449.5 468.1 448.2 467.8 447.5 467.7 445.5 467.5 444.8 467.3 440.5 467.3 435.8 467.5 434.8 467.5 432.5 467.7 432.0 467.7 430.2 467.9 429.8 468.0 428.2 468.2 427.8 468.2 426.5 468.4 426.0 468.5 425.0 468.7 424.5 468.7 423.5 468.9 423.0 469.0 422.2 469.2 421.8 469.3 421.0 469.5 420.5 469.5 419.8 469.7 419.2 469.8 418.5 470.0 418.0 470.1 417.5 470.3 417.0 470.4 416.2 471.4 412.8 471.5 412.2 471.9 411.0 472.2 410.0 473.3 406.5 473.7 405.2 474.8 401.8 475.3 400.5 476.5 396.5 477.5 392.0 478.0 389.2 478.5 385.8 478.6 384.5 478.7 383.8 478.8 381.5 478.9 380.8 479.0 376.0 479.1 375.0 479.1 364.2 479.3 363.2 479.4 359.8 479.6 359.0 479.7 357.0 479.8 356.2 479.9 354.8 480.1 354.0 480.5 351.2 480.6 350.8 481.0 348.2 481.9 344.5 482.6 342.5 483.2 341.3 483.8 340.7 484.2 340.3 484.8 340.0 485.2 339.9 486.2 339.8 486.8 340.0 487.2 340.3 488.2 341.3 492.1 347.0 493.2 348.9 493.9 350.2 494.7 352.8 495.1 354.5 495.5 357.5 495.6 360.0 495.5 362.0 495.2 365.0 494.3 370.2 492.9 376.0 491.5 382.5 491.5 383.2 491.3 384.0 491.2 385.2 491.0 386.2 491.0 389.0 490.8 390.0 490.8 392.5 490.8 393.2 491.0 394.0 491.1 397.5 491.3 398.2 491.4 400.0 491.6 400.8 491.7 402.0 491.9 402.8 492.0 403.8 492.5 406.0 492.5 406.8 492.7 407.5 492.8 408.2 493.0 409.0 493.1 409.8 493.3 410.5 493.4 411.2 493.6 412.0 493.7 412.8 493.9 413.5 494.0 414.0 494.2 414.8 494.3 415.5 494.5 416.2 494.5 417.2 494.8 418.0 494.8 418.8 495.0 419.5 495.1 420.5 495.3 421.2 495.4 422.5 495.6 423.2 495.6 424.8 495.8 425.5 495.9 427.8 496.1 428.5 496.1 435.8 495.9 436.5 495.8 438.2 495.6 439.0 495.6 440.2 495.4 440.8 495.0 442.8 494.4 445.0 494.3 445.5 493.8 447.0 493.2 448.5 491.6 451.5 490.4 453.5 488.6 455.8 486.5 457.8 484.8 459.4 482.8 460.8 481.0 461.8 478.8 462.7Z"/>
<path fill="#0000ff" d="M226.0 287.3 225.0 287.4 224.0 287.2 223.0 286.8 222.2 286.2 221.3 285.2 220.5 284.3 219.8 283.0 219.1 281.8 218.3 279.5 217.3 276.0 215.6 266.5 214.9 263.5 214.2 261.0 213.5 258.9 212.8 257.1 211.9 255.5 211.1 254.2 210.2 253.2 209.0 251.9 207.5 250.6 206.2 249.8 204.0 248.5 199.2 246.3 195.8 244.5 193.8 243.2 192.0 241.8 191.1 241.0 190.2 240.0 188.7 238.0 187.8 236.2 187.5 235.5 186.5 232.8 186.4 232.0 186.1 231.2 186.0 230.2 185.8 229.5 185.6 227.8 185.4 227.0 185.3 224.8 185.1 224.2 185.0 222.0 184.7 221.2 184.7 219.2 184.4 218.5 184.4 216.2 184.1 215.5 184.1 213.5 183.9 212.8 183.9 210.5 183.6 209.8 183.6 207.5 183.4 207.0 183.4 204.5 183.2 204.0 183.2 201.8 183.0 201.0 183.1 198.8 182.9 197.8 182.9 195.5 182.8 194.5 182.8 192.0 182.7 191.2 182.8 188.8 182.7 188.0 182.9 185.2 182.8 184.5 183.1 181.5 183.1 180.5 183.7 177.2 184.4 174.5 185.1 172.5 186.2 170.1 187.5 168.3 188.8 167.0 189.5 166.5 190.2 166.0 191.0 165.6 192.0 165.3 193.2 165.0 194.8 164.9 196.5 164.8 198.5 164.9 205.5 165.6 211.8 166.0 213.2 166.3 214.8 166.8 216.0 167.5 217.2 168.5 218.5 169.8 219.8 171.5 220.8 173.2 221.8 175.2 222.8 178.0 223.4 179.8 223.9 181.8 224.1 183.0 224.4 183.8 224.6 185.8 224.9 186.5 225.2 189.5 225.4 190.2 225.7 195.2 226.0 196.2 226.1 201.8 226.2 208.8 226.4 209.8 226.4 217.8 226.6 218.8 226.5 222.5 226.7 223.5 226.6 226.0 226.7 226.8 226.7 228.5 226.8 229.2 226.8 230.8 226.9 231.5 226.9 232.5 227.0 233.2 227.0 234.2 227.5 239.8 228.0 243.2 228.7 247.0 231.6 257.8 232.6 262.0 233.0 264.8 233.4 269.0 233.4 272.0 233.2 274.8 232.9 276.5 232.6 278.0 231.6 281.0 230.5 283.3 229.8 284.5 229.0 285.4 228.2 286.1 227.5 286.7 226.8 287.0ZM277.8 312.8 277.0 312.9 276.0 312.9 275.0 312.8 274.0 312.6 273.0 312.2 272.2 311.8 271.4 311.2 270.5 310.5 269.0 308.8 267.7 306.8 266.3 304.0 265.1 301.0 264.1 297.8 263.1 293.2 262.4 289.2 262.3 288.2 262.1 287.5 261.7 284.2 261.1 280.2 261.0 279.2 260.3 273.8 259.8 269.0 259.5 263.8 259.4 259.5 259.5 256.0 259.9 251.5 260.4 247.8 261.1 244.0 262.1 240.0 263.3 235.8 264.8 231.2 266.5 226.7 268.0 223.2 269.2 220.6 270.5 218.4 271.8 216.7 273.0 215.4 273.8 214.8 274.5 214.4 275.2 214.0 276.0 213.8 277.5 213.6 278.5 213.7 279.8 213.9 280.8 214.3 282.0 214.9 283.2 215.6 284.5 216.5 285.8 217.6 286.9 218.8 288.2 220.4 289.5 222.0 293.7 228.5 295.0 230.3 296.1 231.8 299.8 236.0 301.2 237.8 302.5 239.8 303.7 241.8 305.4 245.0 307.4 249.5 309.8 255.5 311.9 261.5 313.5 265.0 314.0 266.2 314.5 268.5 314.8 271.2 315.1 275.2 315.2 280.2 315.1 283.0 315.0 285.0 314.8 286.5 314.5 287.8 312.8 291.8 311.3 296.8 310.7 298.5 309.5 300.6 309.0 301.2 308.2 302.0 307.5 302.5 306.8 302.7 305.2 302.3 304.5 301.8 303.9 301.5 302.6 300.2 301.4 298.8 300.0 296.4 299.5 296.1 298.8 296.1 297.5 296.6 296.8 297.0 296.0 297.6 295.5 297.8 294.8 298.5 294.2 298.7 294.0 299.0 291.2 301.5 290.8 302.1 289.5 303.2 288.2 304.7 287.5 305.4 285.4 307.8 282.6 310.2 281.2 311.2 280.0 312.0 278.8 312.5ZM341.2 297.0 339.8 297.2 338.2 297.2 336.5 297.0 334.0 296.5 331.5 295.7 329.5 294.9 326.0 293.1 324.0 291.8 322.0 290.5 320.2 289.0 319.1 288.0 318.4 287.0 317.9 286.0 317.6 284.8 317.3 283.0 317.1 280.8 317.0 278.2 316.9 272.0 317.2 268.0 317.5 266.2 317.8 265.0 318.9 261.8 320.1 257.5 320.9 255.2 324.1 246.8 325.9 242.5 327.5 239.2 329.5 235.8 331.4 233.2 332.2 232.3 333.2 231.3 334.8 230.2 336.2 229.4 337.8 228.9 338.5 228.8 339.5 228.8 340.2 228.9 341.2 229.2 342.8 229.8 344.2 230.7 345.8 232.1 346.6 233.0 348.2 235.3 350.6 239.0 355.8 248.2 359.0 254.4 360.9 257.5 361.2 258.2 361.5 259.2 362.0 261.7 362.5 259.9 362.8 259.2 363.3 258.5 368.6 252.8 370.6 250.8 372.2 249.3 374.2 247.7 379.5 244.1 381.0 243.0 383.0 241.3 386.7 237.8 388.4 236.2 390.8 234.5 392.2 233.6 393.9 232.8 395.8 232.0 398.5 231.2 399.8 231.0 400.5 230.8 404.2 230.5 407.2 230.6 409.2 231.1 410.0 231.4 411.0 232.0 413.0 233.7 414.7 236.0 415.4 237.2 416.5 239.5 417.0 241.0 417.1 241.5 417.5 242.8 417.6 243.2 417.8 243.8 417.8 244.5 418.0 245.0 418.1 246.0 418.3 246.5 418.3 247.5 418.5 248.0 418.6 249.5 418.7 250.0 418.7 251.8 418.9 252.2 418.8 254.8 419.0 255.5 418.7 258.0 418.8 258.8 418.2 261.6 417.7 263.2 417.0 264.9 416.1 266.2 415.0 267.4 413.5 268.5 412.0 269.2 410.2 269.7 408.0 270.0 405.8 270.0 402.8 269.8 392.2 268.7 390.0 268.6 388.0 268.8 386.0 269.2 384.0 269.8 378.0 272.2 375.5 273.1 373.0 273.7 370.2 273.9 368.2 273.9 366.2 273.8 365.0 273.5 364.0 273.1 363.2 272.5 362.8 271.8 362.3 270.5 362.0 269.3 361.7 271.5 361.3 273.5 360.8 275.2 360.1 276.8 359.3 278.2 355.8 284.2 353.7 287.5 352.4 289.2 351.7 290.2 349.8 292.4 348.0 293.9 347.0 294.6 345.8 295.4 344.0 296.2 342.5 296.7ZM479.5 459.5 478.2 459.7 477.0 459.6 475.8 459.3 474.8 458.7 473.8 457.8 473.0 456.8 472.2 455.5 471.5 453.8 470.5 451.0 470.1 449.2 469.6 447.2 469.2 444.5 468.9 441.5 468.7 438.2 468.7 436.0 468.8 435.0 468.9 433.0 469.3 428.8 470.1 424.0 470.9 420.2 471.9 416.8 473.3 412.5 474.3 409.8 479.4 397.5 480.4 394.5 481.1 391.5 481.7 388.5 481.9 385.0 482.0 382.0 481.7 371.0 481.7 366.8 482.0 361.8 482.4 357.8 482.8 355.4 483.1 353.5 483.6 351.8 484.2 350.2 484.8 349.2 485.5 348.3 486.0 348.0 486.8 347.9 487.5 348.2 488.5 348.9 489.5 350.2 490.2 351.5 490.9 353.0 491.4 354.8 491.8 356.5 492.0 358.5 492.1 360.5 492.1 362.5 492.0 364.8 491.7 367.0 490.9 372.2 489.1 380.5 488.4 384.0 487.9 388.0 487.8 389.8 487.8 391.8 487.9 393.5 488.2 395.8 488.9 400.2 489.7 404.0 492.4 415.0 493.7 421.5 494.3 425.8 494.6 428.8 494.6 432.2 494.6 435.5 494.1 439.8 493.3 443.2 492.2 446.5 491.5 448.2 490.2 450.5 489.3 452.0 488.0 453.7 487.0 454.8 485.2 456.4 483.8 457.5 482.5 458.3 481.0 459.0Z"/>
<path fill="#0030ff" d="M226.2 283.5 225.5 283.7 224.5 283.6 223.8 283.3 223.0 282.8 222.2 282.1 221.5 281.2 220.8 280.0 220.2 278.8 219.4 276.5 218.6 273.5 216.5 262.8 215.5 258.5 214.9 256.5 214.3 255.0 213.5 253.5 212.7 252.2 211.8 251.1 210.8 250.1 209.5 249.1 208.1 248.2 205.2 246.8 199.8 244.5 197.2 243.4 194.8 242.0 192.8 240.5 191.5 239.3 190.8 238.5 190.0 237.5 189.0 236.0 188.3 234.5 187.9 233.5 187.1 231.0 186.7 229.2 186.5 227.8 186.2 227.0 186.0 224.8 185.8 224.0 185.6 221.8 185.4 221.0 185.3 219.0 185.1 218.2 185.0 216.0 184.8 215.2 184.7 213.2 184.5 212.5 184.5 210.2 184.3 209.5 184.2 207.5 184.1 206.8 184.1 204.5 183.9 203.8 183.9 201.5 183.8 200.8 183.8 198.5 183.7 197.8 183.7 195.2 183.6 194.2 183.8 192.0 183.7 191.0 183.9 188.8 183.9 187.8 184.2 184.2 184.9 180.5 185.5 178.5 186.4 176.2 187.5 174.2 188.2 173.1 189.0 172.2 190.5 170.8 191.2 170.3 192.2 169.8 194.0 169.1 196.0 168.7 198.5 168.6 201.2 168.6 206.8 169.0 209.5 169.2 211.2 169.5 212.8 169.9 214.2 170.6 215.8 171.5 217.0 172.6 218.2 174.0 219.3 175.5 220.5 177.5 221.5 179.7 222.4 182.0 223.0 184.1 223.7 186.8 224.1 189.5 224.4 190.5 224.9 195.5 225.1 196.5 225.3 199.2 225.5 208.8 225.7 210.0 225.6 217.8 225.8 219.0 225.6 222.5 225.7 223.8 225.6 226.0 225.7 227.0 225.6 228.5 225.7 229.5 225.6 230.8 225.6 236.0 225.7 240.0 225.9 242.5 226.3 245.2 226.9 248.2 227.6 250.8 229.8 257.7 230.8 261.6 231.4 265.2 231.8 269.0 231.7 271.5 231.5 274.0 231.0 276.5 230.4 278.5 229.5 280.4 228.5 281.9 227.5 282.8 226.9 283.2ZM278.2 309.3 277.2 309.3 276.5 309.2 275.5 309.0 274.8 308.8 273.8 308.3 273.0 307.8 271.5 306.6 270.0 304.9 268.6 302.8 267.3 300.2 266.2 297.7 265.2 294.5 264.4 291.0 263.6 287.0 262.8 281.5 262.1 276.8 261.8 273.5 261.5 268.8 261.3 263.5 261.4 259.8 261.7 256.0 262.2 252.2 262.9 248.2 263.7 244.5 264.7 240.5 265.9 236.8 267.2 232.9 268.6 229.5 270.0 226.5 271.4 224.0 272.8 222.0 274.1 220.5 274.8 220.0 275.5 219.5 276.8 219.0 278.2 218.8 279.2 218.9 280.2 219.1 281.2 219.5 282.5 220.1 284.5 221.5 285.5 222.3 286.8 223.5 289.0 226.1 293.4 231.8 298.4 237.8 300.5 240.7 302.3 243.8 304.7 248.2 306.8 253.0 308.1 256.2 309.8 261.5 311.5 265.8 312.2 267.8 312.8 270.2 313.3 273.2 313.6 277.5 313.8 281.5 313.7 283.8 313.5 285.5 313.3 287.0 312.9 288.5 311.9 291.2 310.6 295.8 310.0 297.2 309.5 298.2 309.0 299.0 308.5 299.7 308.0 300.1 307.2 300.5 306.2 300.8 305.8 300.8 304.8 300.6 303.5 299.7 302.7 299.0 302.0 298.2 300.6 296.2 300.2 295.9 299.5 295.5 298.5 295.5 297.2 296.0 296.2 296.5 293.6 298.2 290.5 300.8 289.8 301.5 286.0 305.0 284.0 306.7 283.0 307.4 281.8 308.1 280.5 308.7 279.2 309.1ZM373.2 270.5 371.5 270.4 369.8 270.1 368.2 269.6 367.1 269.0 366.2 268.2 365.5 267.2 365.1 266.0 364.9 264.8 365.0 263.5 365.3 262.2 365.8 261.0 366.5 259.8 367.7 258.0 369.3 256.0 371.0 254.1 372.5 252.6 375.0 250.5 379.8 247.2 381.8 245.6 383.8 243.7 388.2 238.8 390.5 236.6 392.8 234.9 395.2 233.5 397.2 232.7 398.8 232.3 400.8 231.8 404.0 231.5 405.8 231.6 407.0 231.7 408.2 231.9 409.2 232.3 410.5 232.9 412.2 234.2 413.2 235.5 414.2 236.8 415.2 238.5 416.0 240.5 416.8 243.0 417.3 245.2 417.4 246.0 417.6 246.8 417.6 247.5 417.8 248.2 417.8 249.5 418.0 250.2 418.0 251.8 418.1 252.5 418.0 254.8 418.0 255.8 417.6 259.2 417.0 261.1 416.3 262.8 415.5 264.0 414.4 265.2 413.0 266.3 411.5 267.1 409.8 267.7 407.8 268.1 405.5 268.2 402.8 268.1 399.5 267.8 392.5 267.0 390.5 266.8 388.8 266.9 387.0 267.1 384.8 267.6 379.0 269.4 376.8 270.0 375.0 270.4ZM340.8 295.8 338.8 295.9 336.8 295.7 334.2 295.2 332.0 294.4 329.0 293.0 327.0 291.8 324.9 290.2 323.2 288.8 322.0 287.5 321.0 286.2 320.3 285.0 319.6 283.5 319.2 282.0 318.9 280.0 318.6 277.5 318.5 274.8 318.5 271.8 318.7 269.2 319.0 267.0 319.5 264.8 320.4 261.5 321.3 257.8 322.6 253.8 324.8 247.8 326.6 243.8 328.0 241.0 329.4 238.8 331.0 236.6 332.5 235.0 334.0 233.7 335.8 232.6 337.5 232.0 339.2 231.8 340.8 231.9 342.0 232.2 343.5 233.0 344.8 233.8 345.8 234.7 347.0 236.0 348.5 237.9 350.0 240.1 351.9 243.2 354.9 248.8 359.4 258.0 360.0 259.5 360.4 261.2 360.7 263.0 360.8 265.0 360.7 267.8 360.4 270.2 359.9 272.8 359.2 275.0 358.4 277.0 357.4 279.0 354.8 283.5 352.9 286.8 351.6 288.5 350.5 289.9 349.0 291.5 347.2 293.0 345.5 294.1 344.0 294.9 342.2 295.5ZM480.5 456.0 479.2 456.2 478.2 456.1 477.2 455.8 476.2 455.3 475.3 454.5 474.5 453.5 473.8 452.4 473.0 450.9 472.2 449.1 471.7 447.2 471.1 445.0 470.8 442.9 470.5 440.5 470.3 438.0 470.3 436.2 470.3 433.2 470.5 431.0 471.0 427.2 471.9 423.0 472.5 420.5 473.2 418.2 474.0 416.1 475.0 413.6 476.0 411.5 477.2 409.2 478.5 407.2 479.8 405.4 481.0 404.0 482.0 403.2 483.0 402.7 483.8 402.6 484.5 402.9 485.2 403.5 486.0 404.4 487.0 406.1 487.8 407.7 488.8 410.2 489.8 413.0 490.5 415.5 491.8 420.5 492.3 423.8 492.7 426.0 493.0 430.5 493.0 432.8 493.0 435.0 492.7 437.5 492.4 439.2 491.7 442.5 491.2 444.2 490.6 445.8 489.9 447.2 489.1 448.8 488.2 450.0 487.2 451.4 486.2 452.5 485.0 453.6 484.0 454.4 482.8 455.2 481.5 455.7Z"/>
<path fill="#0064ff" d="M225.8 279.6 225.2 279.6 224.5 279.5 223.8 279.1 223.2 278.7 222.5 277.8 222.0 277.0 221.5 276.0 221.0 274.7 220.2 272.2 219.5 269.0 219.0 265.8 217.9 258.2 217.3 255.2 216.9 253.8 216.4 252.5 215.8 251.2 215.1 250.2 214.3 249.2 213.2 248.2 211.8 247.2 210.2 246.4 207.2 245.1 201.0 243.0 198.5 242.0 196.0 240.8 194.0 239.4 192.8 238.4 191.8 237.4 190.8 236.2 190.0 235.1 189.4 234.0 188.7 232.5 188.2 231.0 187.7 229.2 187.1 226.8 186.8 224.8 186.6 223.8 186.4 221.8 186.1 220.8 186.0 219.0 185.8 218.0 185.6 216.0 185.5 215.0 185.4 213.2 185.2 212.2 185.1 210.2 185.0 209.2 184.9 207.5 184.8 206.5 184.8 204.5 184.6 203.5 184.6 201.5 184.5 200.5 184.6 198.5 184.5 197.5 184.6 195.2 184.6 194.2 184.8 191.0 185.2 187.5 185.8 184.2 186.6 181.8 187.5 179.5 188.7 177.5 190.1 175.8 191.8 174.4 193.5 173.3 195.5 172.5 197.5 172.1 199.8 171.9 202.5 171.9 206.0 172.1 208.2 172.3 210.2 172.7 212.0 173.2 213.5 173.9 215.0 174.9 216.2 175.9 217.5 177.3 218.8 178.9 219.8 180.6 220.8 182.6 221.5 184.5 222.3 187.0 223.2 190.8 224.2 196.8 224.5 201.0 224.8 209.0 224.9 210.0 224.8 218.0 224.9 219.0 224.7 222.8 224.7 223.8 224.4 229.8 223.6 240.5 223.5 243.0 223.6 245.2 224.0 247.5 224.6 249.8 227.5 257.3 228.8 261.2 229.2 263.2 229.6 265.0 229.8 266.8 229.9 268.5 229.9 270.5 229.8 272.5 229.4 274.2 229.0 275.8 228.2 277.4 227.5 278.4 226.8 279.1 226.2 279.4ZM280.0 305.3 278.2 305.2 276.8 304.9 275.0 304.1 273.5 303.1 272.0 301.7 270.5 299.9 269.2 297.9 268.2 295.8 267.2 293.2 266.2 290.3 265.5 287.2 264.8 283.4 264.1 279.5 263.7 275.5 263.4 272.0 263.3 267.8 263.3 264.0 263.5 260.2 263.8 256.8 264.3 253.0 265.0 249.2 265.9 245.5 267.0 241.8 268.1 238.2 269.4 235.0 270.6 232.2 272.0 229.7 273.2 227.8 274.6 226.2 276.0 225.2 277.2 224.6 278.0 224.4 278.8 224.4 279.8 224.4 280.8 224.6 281.8 224.9 282.8 225.4 283.8 225.9 285.0 226.8 287.2 228.7 290.8 232.4 295.8 238.2 298.4 241.8 300.8 245.5 303.2 250.0 305.2 254.5 306.3 257.5 310.1 268.2 310.9 271.2 311.5 274.5 312.0 278.5 312.2 282.2 312.2 284.2 312.0 286.2 311.7 288.0 311.2 289.8 310.1 293.5 309.3 295.8 308.5 297.1 307.6 298.0 307.2 298.2 305.8 298.8 305.2 298.8 304.5 298.7 303.8 298.3 302.9 297.8 302.2 297.1 301.1 295.8 300.5 295.2 300.0 295.0 299.5 294.9 298.8 294.8 298.2 294.9 296.8 295.4 295.8 295.8 293.0 297.4 286.8 302.2 284.2 303.8 283.0 304.4 282.0 304.8 281.0 305.1ZM376.2 267.0 374.5 266.9 372.9 266.5 372.2 266.2 371.6 265.8 371.1 265.2 370.7 264.8 370.4 264.2 370.2 263.5 370.1 262.2 370.4 260.8 371.1 259.0 371.8 257.9 372.6 256.8 373.4 255.8 374.5 254.6 376.4 253.0 380.8 249.7 382.8 247.8 384.2 246.1 388.7 240.5 390.2 238.8 391.8 237.4 393.0 236.4 394.4 235.5 395.8 234.7 397.2 234.1 399.0 233.5 400.5 233.1 401.8 232.8 403.2 232.7 404.8 232.7 406.2 232.7 407.5 233.0 408.5 233.3 409.8 233.8 410.8 234.5 411.5 235.1 412.5 236.2 413.2 237.1 414.3 238.8 415.2 240.8 415.8 242.5 416.5 245.5 417.0 248.5 417.1 250.5 417.2 252.8 417.0 255.8 416.8 257.3 416.3 259.0 415.8 260.5 415.1 261.8 414.2 262.9 413.2 263.9 411.8 264.9 410.0 265.7 408.0 266.2 406.0 266.5 403.5 266.6 400.8 266.4 398.0 266.1 391.2 265.1 389.5 264.9 388.0 264.9 386.8 265.0 385.2 265.2 379.0 266.7 377.5 266.9ZM339.8 294.5 338.0 294.5 336.0 294.2 334.0 293.7 332.0 292.9 330.0 291.8 328.1 290.5 326.3 289.0 324.8 287.5 323.6 286.0 322.7 284.5 322.0 283.0 321.3 281.2 320.8 279.2 320.5 277.2 320.2 274.8 320.1 272.2 320.2 269.2 320.6 266.2 321.1 263.8 322.6 257.2 323.5 254.2 324.7 250.8 326.0 247.5 327.3 244.8 328.7 242.2 330.0 240.3 331.5 238.4 333.0 236.9 334.5 235.8 336.2 234.9 337.8 234.4 339.5 234.2 341.0 234.3 342.2 234.7 343.8 235.4 345.0 236.3 346.2 237.4 347.8 239.0 349.1 240.8 350.5 242.8 352.5 246.2 354.1 249.2 355.6 252.2 357.9 257.8 358.6 259.8 359.1 261.8 359.3 263.8 359.4 265.8 359.3 268.0 359.0 270.5 358.5 272.8 357.8 275.0 356.9 277.2 355.7 279.8 353.5 283.8 351.9 286.2 350.6 288.0 349.2 289.6 348.0 290.8 346.2 292.2 344.8 293.1 343.0 293.8 341.5 294.3ZM481.0 452.3 480.0 452.3 479.0 452.2 478.0 451.8 477.2 451.4 476.5 450.7 475.6 449.8 475.0 448.8 474.2 447.4 473.7 446.0 473.2 444.5 472.8 442.9 472.4 441.0 472.2 439.2 472.0 437.2 472.0 433.2 472.4 429.0 473.2 425.0 474.2 421.2 475.0 419.2 475.8 417.5 476.5 416.0 477.5 414.3 478.5 413.0 479.5 411.8 480.5 411.0 481.2 410.5 482.2 410.2 483.0 410.2 483.8 410.3 484.5 410.7 485.2 411.3 486.1 412.2 486.8 413.2 487.5 414.6 488.2 416.3 489.0 418.2 490.1 422.0 490.5 424.0 490.9 426.2 491.3 430.2 491.3 434.0 490.9 437.5 490.2 440.7 489.3 443.8 488.1 446.2 487.3 447.5 486.5 448.6 485.7 449.5 484.8 450.4 483.9 451.0 483.0 451.6 482.0 452.0Z"/>
<path fill="#0098ff" d="M217.2 244.8 216.2 244.8 214.8 244.5 202.8 241.4 199.2 240.3 197.8 239.7 196.5 239.1 195.0 238.1 193.8 237.2 192.8 236.3 191.8 235.1 190.8 233.8 190.0 232.3 189.3 230.8 188.7 229.0 188.0 226.4 187.4 223.5 186.9 220.8 186.2 215.0 185.7 209.2 185.4 203.5 185.4 200.2 185.5 197.2 185.7 194.0 186.1 190.8 186.6 187.8 187.4 185.2 188.3 183.0 189.5 180.9 190.8 179.2 192.5 177.8 193.5 177.1 194.5 176.5 196.5 175.7 198.5 175.3 200.5 175.0 203.0 174.9 205.5 175.0 207.8 175.3 209.5 175.7 211.2 176.2 212.8 176.9 214.2 177.9 215.5 178.9 216.8 180.2 218.0 181.8 219.0 183.3 220.0 185.3 220.8 187.0 221.5 189.2 222.4 192.5 223.1 196.8 223.5 199.5 223.7 202.5 224.1 210.2 224.1 212.2 223.9 219.2 223.6 224.0 223.2 228.0 222.6 232.2 221.8 236.0 220.9 239.5 220.0 242.0 219.2 243.4 218.8 244.0 218.2 244.4 217.8 244.7ZM282.8 301.3 281.0 301.5 279.5 301.3 277.8 300.8 276.2 300.1 274.8 299.1 273.2 297.7 272.0 296.2 270.8 294.4 269.7 292.5 268.7 290.2 267.8 287.8 267.1 285.0 266.4 282.0 265.9 278.8 265.5 275.5 265.3 272.2 265.1 268.2 265.2 264.8 265.4 261.0 265.8 257.5 266.4 253.8 267.1 250.2 267.9 246.8 269.0 243.2 270.1 240.2 271.2 237.5 272.5 235.1 273.8 233.0 275.2 231.4 276.5 230.3 277.8 229.7 278.5 229.5 279.2 229.4 280.2 229.5 281.2 229.6 282.2 229.9 283.2 230.3 284.2 230.8 285.5 231.6 288.0 233.6 291.2 236.8 294.2 240.2 296.9 243.8 299.2 247.5 301.4 251.5 303.4 255.8 304.8 259.5 307.4 267.2 308.6 271.2 309.6 275.2 310.3 279.2 310.6 282.8 310.7 284.8 310.5 286.5 310.2 288.5 309.8 290.4 309.0 292.8 308.2 294.5 307.6 295.5 306.8 296.2 306.2 296.5 305.5 296.7 304.8 296.8 304.2 296.7 303.2 296.3 301.5 294.9 300.5 294.3 299.2 294.0 298.5 294.0 297.8 294.1 296.0 294.6 294.0 295.4 292.0 296.5 288.0 299.0 286.5 299.9 284.5 300.8ZM404.5 265.0 401.8 265.0 398.5 264.7 395.5 264.2 389.5 263.0 387.0 262.6 384.8 262.5 380.2 262.8 378.5 262.7 377.5 262.5 376.7 262.0 376.2 261.2 376.0 260.8 376.0 260.2 376.1 259.5 376.3 258.8 376.7 258.0 377.2 257.2 378.3 256.0 381.5 252.8 382.8 251.4 384.2 249.4 387.4 244.8 388.8 242.8 390.5 240.7 392.2 238.9 393.6 237.8 395.0 236.8 396.2 236.0 397.8 235.2 399.2 234.7 401.0 234.3 402.7 234.0 404.2 233.9 405.8 234.0 407.0 234.2 408.0 234.5 409.1 235.0 410.0 235.5 411.0 236.3 411.9 237.2 412.7 238.2 413.2 239.1 414.0 240.5 414.5 241.8 415.1 243.5 415.6 245.5 415.8 247.0 416.0 248.8 416.2 250.8 416.1 253.8 415.8 255.5 415.6 256.8 415.2 258.0 414.8 259.2 414.1 260.2 413.5 261.2 412.8 262.0 411.8 262.8 410.8 263.4 409.8 263.9 408.5 264.4 407.2 264.7 406.0 264.9ZM340.8 293.0 339.0 293.2 337.2 293.0 335.5 292.7 333.6 292.0 331.8 291.1 330.0 290.0 328.5 288.8 327.0 287.2 325.8 285.8 324.6 284.0 323.8 282.2 323.1 280.5 322.5 278.5 322.0 276.2 321.8 274.0 321.6 271.5 321.7 268.8 322.0 265.8 322.5 262.8 323.6 257.5 324.4 254.8 325.3 252.0 326.4 249.2 327.7 246.5 329.0 244.1 330.2 242.2 331.8 240.3 333.2 238.9 334.8 237.8 336.2 237.0 338.0 236.4 339.5 236.3 341.0 236.4 342.2 236.7 343.8 237.4 345.0 238.2 346.2 239.3 347.5 240.6 348.8 242.2 350.2 244.3 351.8 246.8 353.3 249.8 354.6 252.5 356.3 256.8 357.1 259.0 357.7 261.0 358.0 263.0 358.2 265.2 358.1 267.5 357.9 269.8 357.4 272.0 356.8 274.2 356.0 276.5 355.0 278.8 353.4 281.8 351.9 284.2 350.8 286.0 349.5 287.6 348.2 289.0 346.8 290.3 345.2 291.3 343.8 292.1 342.2 292.7ZM225.8 274.0 225.2 274.2 224.5 274.0 224.0 273.7 223.5 273.0 223.0 272.2 222.5 271.0 222.0 269.3 221.7 267.8 221.4 266.0 221.2 264.0 221.2 262.2 221.3 260.5 221.5 259.0 221.8 258.2 222.0 257.8 222.2 257.5 222.8 257.3 223.2 257.4 224.0 258.0 224.8 258.8 225.5 260.1 226.0 261.1 226.6 262.5 227.0 263.9 227.3 265.5 227.5 266.8 227.6 268.2 227.6 269.5 227.5 270.8 227.1 272.0 226.8 272.9 226.2 273.7ZM481.5 448.0 480.8 448.1 480.0 448.0 479.2 447.8 478.5 447.4 477.8 446.8 477.2 446.2 476.5 445.3 476.0 444.4 475.5 443.4 475.0 442.1 474.4 439.5 474.0 436.5 473.9 433.5 474.2 430.2 474.8 426.9 475.6 424.0 476.8 421.2 478.0 419.1 478.8 418.1 479.5 417.3 480.2 416.7 481.0 416.3 481.8 416.1 482.5 416.1 483.2 416.2 483.8 416.4 484.5 416.9 485.0 417.4 485.7 418.2 486.2 419.1 487.3 421.2 488.2 424.0 488.9 427.0 489.2 430.2 489.3 433.2 489.1 436.0 488.5 438.8 487.8 441.2 486.9 443.2 485.8 445.0 484.4 446.5 483.8 447.0 483.0 447.5 482.2 447.8Z"/>
<path fill="#00ccff" d="M214.2 240.3 212.5 240.5 210.5 240.4 207.8 240.2 204.8 239.7 202.2 239.2 200.0 238.5 198.2 237.9 196.5 237.0 195.0 236.0 193.8 235.0 192.8 233.9 191.8 232.6 191.0 231.3 190.2 229.8 189.5 227.8 188.9 225.8 188.2 223.0 187.3 217.8 187.0 214.8 186.5 209.0 186.3 203.2 186.3 200.2 186.6 196.0 187.2 192.0 187.9 189.2 188.8 186.8 189.8 184.8 191.0 183.0 192.5 181.5 194.2 180.1 196.2 179.1 198.2 178.4 200.0 178.1 202.0 177.9 204.2 177.9 206.2 178.0 208.0 178.3 209.8 178.8 211.5 179.5 213.0 180.4 214.5 181.5 215.8 182.6 217.0 184.1 218.0 185.5 219.0 187.3 219.8 189.0 220.6 191.0 221.2 193.3 222.0 196.8 222.5 200.2 222.9 204.2 223.2 210.2 223.2 214.2 222.9 219.2 222.7 222.2 222.3 225.2 221.7 228.2 221.0 231.3 220.1 234.0 219.0 236.2 218.0 237.9 217.0 238.9 215.8 239.8ZM283.8 297.8 282.0 297.8 280.5 297.6 279.0 297.1 277.5 296.4 276.0 295.3 274.8 294.2 273.5 292.9 272.3 291.2 271.3 289.5 270.5 287.8 269.6 285.5 268.9 283.2 268.3 280.8 267.8 278.0 267.4 275.2 267.2 272.5 267.1 269.0 267.1 265.8 267.3 262.5 267.6 259.0 268.2 255.5 268.8 252.2 269.6 249.0 270.5 246.1 271.5 243.4 272.7 240.8 273.8 238.8 275.0 237.0 276.2 235.7 277.5 234.7 278.8 234.2 280.0 234.0 281.0 234.1 282.0 234.2 283.0 234.5 284.0 234.9 285.0 235.5 286.2 236.3 288.5 238.0 291.0 240.4 293.5 243.3 295.8 246.5 298.0 250.0 299.8 253.2 301.3 256.5 302.6 260.0 304.2 264.5 306.0 270.2 307.9 277.5 308.6 281.0 309.0 284.0 309.0 285.8 308.9 287.2 308.6 289.0 308.2 290.5 307.8 291.8 307.1 293.0 306.5 293.8 305.8 294.4 305.0 294.6 304.0 294.6 303.2 294.4 301.2 293.5 300.0 293.1 298.5 292.9 297.0 292.9 295.5 293.2 293.8 293.8 292.0 294.6 288.2 296.4 286.8 297.0 285.2 297.5ZM405.2 263.3 403.8 263.4 402.2 263.5 399.0 263.2 395.5 262.6 391.8 261.6 388.1 260.2 386.0 259.2 385.2 258.5 384.7 258.0 384.3 257.2 384.2 256.5 384.3 255.2 384.6 253.8 385.4 251.8 386.5 249.5 387.7 247.2 389.1 245.0 390.3 243.2 391.8 241.5 393.0 240.2 394.2 239.1 395.8 238.0 397.0 237.2 398.5 236.6 400.1 236.0 401.8 235.6 403.2 235.4 404.5 235.4 405.8 235.5 406.8 235.7 407.8 236.0 408.8 236.5 409.6 237.0 410.5 237.8 411.2 238.5 412.0 239.6 412.7 240.8 413.2 241.9 413.7 243.2 414.5 246.0 414.9 249.0 414.9 252.0 414.8 253.5 414.6 254.8 414.3 256.0 413.9 257.0 413.5 258.0 412.9 259.0 412.2 259.8 411.5 260.6 410.7 261.2 409.8 261.8 408.8 262.3 407.8 262.7 406.5 263.0ZM339.2 291.8 337.8 291.7 336.0 291.3 334.3 290.8 332.8 290.0 331.2 289.0 329.8 287.8 328.4 286.5 327.2 285.0 326.2 283.5 325.3 281.8 324.6 280.0 324.0 278.2 323.5 276.2 323.2 274.0 323.0 271.8 322.9 269.5 323.0 267.0 323.3 264.2 324.1 260.0 324.8 257.0 325.5 254.5 326.3 252.0 327.4 249.5 328.5 247.2 329.8 245.0 331.0 243.3 332.2 241.8 333.8 240.4 335.2 239.4 336.8 238.7 338.2 238.3 339.8 238.1 341.2 238.3 342.5 238.7 344.0 239.4 345.2 240.2 346.8 241.6 348.0 243.0 349.2 244.6 350.5 246.5 351.9 249.0 353.1 251.5 354.7 255.2 355.6 257.8 356.3 260.0 356.7 262.0 356.9 264.0 357.0 266.2 356.9 268.2 356.6 270.5 356.1 272.8 355.4 275.0 354.5 277.2 353.3 279.8 351.8 282.5 350.5 284.5 349.2 286.2 348.0 287.6 346.8 288.8 345.2 289.9 343.8 290.7 342.2 291.3 340.8 291.6ZM482.0 442.8 481.2 442.9 480.8 442.8 479.8 442.5 479.2 442.1 478.8 441.7 478.0 440.6 477.3 439.2 476.8 437.5 476.5 435.5 476.4 433.5 476.5 431.5 476.9 429.2 477.4 427.2 478.1 425.5 479.0 424.0 480.0 422.9 481.0 422.3 481.5 422.2 482.0 422.1 482.5 422.2 483.0 422.4 483.8 422.9 484.5 423.7 485.3 425.0 485.9 426.5 486.3 428.2 486.6 430.2 486.8 432.2 486.7 434.0 486.4 435.8 486.0 437.5 485.5 439.0 484.8 440.4 484.0 441.4 483.0 442.3Z"/>
<path fill="#16ffe1" d="M211.2 237.5 209.2 237.7 207.0 237.7 204.5 237.4 202.2 237.0 200.2 236.5 198.5 235.9 197.0 235.1 195.5 234.2 194.2 233.1 193.2 232.0 192.2 230.6 191.4 229.0 190.7 227.5 190.0 225.5 189.3 223.0 188.7 220.5 188.1 217.0 187.5 212.0 187.3 208.8 187.2 205.2 187.3 201.5 187.5 198.0 188.0 194.9 188.6 192.2 189.4 190.0 190.3 188.0 191.5 186.2 192.8 184.8 194.2 183.5 196.0 182.4 198.0 181.5 200.0 181.0 201.8 180.7 203.8 180.7 205.8 180.8 207.5 181.1 209.2 181.6 210.8 182.2 212.2 183.0 213.8 184.1 215.0 185.2 216.2 186.6 217.2 188.0 218.2 189.7 219.1 191.5 219.8 193.5 220.5 195.7 221.0 198.0 221.5 200.8 221.9 204.2 222.1 208.8 222.2 212.5 222.1 216.0 221.7 219.8 221.3 223.0 220.7 226.0 220.0 228.5 219.1 230.8 218.1 232.8 217.0 234.3 215.8 235.6 214.5 236.5 213.0 237.1ZM402.2 261.8 400.8 261.8 399.2 261.7 396.2 261.2 394.8 260.8 393.2 260.3 392.0 259.7 390.8 259.1 389.9 258.5 389.0 257.8 388.5 257.2 388.0 256.5 387.7 255.8 387.5 255.0 387.4 254.0 387.5 253.0 387.8 251.5 388.3 250.0 388.9 248.5 389.8 246.8 390.8 245.2 391.9 243.8 393.0 242.5 394.2 241.2 395.5 240.2 396.8 239.4 398.0 238.7 399.5 238.0 400.8 237.7 402.2 237.4 403.8 237.2 405.0 237.3 406.0 237.5 407.0 237.8 408.0 238.2 408.7 238.8 409.5 239.4 410.1 240.0 410.8 240.9 411.3 241.8 411.8 242.8 412.3 244.0 412.7 245.5 413.0 246.8 413.3 249.5 413.3 251.0 413.2 252.2 412.8 254.5 412.1 256.2 411.2 257.8 410.6 258.5 410.0 259.1 408.5 260.2 406.6 261.0 404.5 261.5ZM285.2 294.3 283.8 294.3 282.2 294.2 280.8 293.8 279.5 293.3 278.1 292.5 276.8 291.5 275.5 290.2 274.5 289.0 273.5 287.6 272.6 286.0 271.8 284.1 271.1 282.2 270.5 280.2 269.9 278.0 269.5 275.8 269.2 273.2 269.0 270.0 269.0 267.2 269.1 264.5 269.4 261.5 269.7 258.5 270.3 255.5 271.0 252.5 271.8 249.7 272.6 247.2 273.5 245.1 274.5 243.2 275.6 241.5 276.8 240.2 277.8 239.4 279.0 238.7 280.2 238.5 281.0 238.4 282.0 238.5 283.0 238.7 284.0 239.1 286.0 240.1 288.2 241.8 290.5 243.9 292.5 246.2 294.5 248.9 296.4 252.0 297.9 254.8 299.2 257.5 300.3 260.2 301.5 263.5 302.8 267.8 304.7 275.0 306.4 280.8 306.8 282.8 307.1 284.5 307.2 285.8 307.1 287.0 307.0 288.2 306.7 289.2 306.3 290.2 305.8 291.0 305.2 291.6 304.8 291.9 304.0 292.1 303.2 292.1 302.4 292.0 300.0 291.4 298.8 291.1 297.2 291.0 296.0 291.1 293.8 291.6 287.8 293.7 286.5 294.1ZM340.2 290.3 338.8 290.3 337.2 290.1 335.8 289.8 334.2 289.1 332.8 288.3 331.3 287.2 330.0 286.0 328.8 284.6 327.8 283.2 326.8 281.5 326.0 279.8 325.4 278.0 324.8 276.0 324.4 273.8 324.2 271.8 324.1 269.5 324.1 267.0 324.4 264.2 324.9 261.0 325.6 257.8 326.2 255.2 327.0 253.0 327.9 250.8 329.0 248.5 330.1 246.5 331.4 244.8 332.8 243.2 334.0 242.0 335.2 241.2 336.8 240.4 338.2 240.0 339.8 239.9 341.2 240.0 342.5 240.4 343.8 240.9 345.0 241.7 346.2 242.8 347.5 244.1 348.8 245.7 350.0 247.5 351.2 249.7 352.4 252.0 353.6 255.0 354.5 257.5 355.2 259.8 355.6 261.8 355.8 263.8 355.9 265.8 355.9 267.8 355.6 270.0 355.2 272.0 354.6 274.0 353.9 276.0 353.0 278.2 351.8 280.5 350.5 282.7 349.4 284.2 348.2 285.7 347.0 287.0 345.8 288.0 344.5 288.8 343.0 289.6 341.8 290.0Z"/>
<path fill="#3cffba" d="M207.5 235.3 205.5 235.2 203.5 235.1 201.5 234.7 199.8 234.2 198.2 233.5 196.8 232.7 195.5 231.7 194.2 230.5 193.2 229.2 192.3 227.5 191.5 225.9 190.8 223.9 190.1 221.5 189.5 219.0 189.0 216.2 188.6 213.2 188.3 210.0 188.2 206.8 188.2 203.8 188.4 201.0 188.8 198.3 189.2 196.0 189.8 194.0 190.5 192.0 191.5 190.1 192.5 188.6 193.7 187.2 195.0 186.2 196.5 185.2 198.2 184.4 200.0 183.8 202.0 183.5 204.0 183.4 205.8 183.6 207.5 183.9 209.2 184.5 210.8 185.2 212.2 186.1 213.8 187.2 215.0 188.5 216.0 189.7 217.0 191.2 217.9 193.0 218.8 195.0 219.5 197.2 220.0 199.2 220.4 201.5 220.7 204.0 221.0 207.5 221.1 210.8 221.1 213.5 220.9 216.5 220.5 219.6 220.0 222.3 219.3 225.0 218.5 227.2 217.5 229.2 216.5 230.8 215.2 232.2 214.1 233.2 212.8 234.0 211.2 234.6 209.5 235.1ZM402.0 259.8 399.8 259.8 397.2 259.6 395.0 258.9 393.9 258.5 393.0 258.0 392.2 257.5 391.5 256.9 391.0 256.2 390.5 255.5 390.1 254.8 389.9 254.0 389.8 253.2 389.9 252.2 390.0 251.2 390.3 250.0 390.8 248.8 391.4 247.5 392.2 246.2 392.9 245.2 393.8 244.3 394.8 243.3 395.8 242.5 396.8 241.8 397.8 241.2 399.0 240.6 400.1 240.2 401.2 240.0 402.5 239.9 403.5 239.9 404.4 240.0 405.2 240.2 406.0 240.5 406.8 240.9 408.0 241.9 409.0 243.2 409.9 245.0 410.5 247.0 410.8 249.0 410.8 251.2 410.5 253.0 410.0 254.5 409.2 255.9 408.2 257.1 407.0 258.1 405.5 258.9 403.8 259.4ZM340.8 288.8 339.2 288.9 337.8 288.8 336.2 288.4 335.0 287.9 333.5 287.1 332.2 286.2 331.0 285.1 329.8 283.8 328.8 282.2 327.9 280.8 327.1 279.0 326.5 277.2 326.0 275.5 325.5 273.5 325.3 271.5 325.1 269.2 325.2 266.8 325.4 264.2 325.8 261.5 326.3 258.5 326.9 256.2 327.6 254.0 328.5 251.8 329.5 249.8 330.5 248.0 331.5 246.5 332.8 245.0 334.0 243.8 335.2 242.9 336.8 242.1 338.0 241.7 339.5 241.5 340.8 241.5 342.0 241.8 343.2 242.3 344.5 243.0 345.8 244.0 347.0 245.2 348.2 246.8 349.2 248.2 350.5 250.2 351.5 252.2 352.5 254.8 353.4 257.0 354.0 259.2 354.5 261.2 354.8 263.2 354.9 265.2 354.9 267.2 354.7 269.2 354.4 271.2 353.9 273.0 353.3 275.0 352.5 277.0 351.5 279.0 350.5 280.8 349.4 282.5 348.2 284.0 347.1 285.2 346.0 286.3 344.8 287.2 343.5 287.9 342.2 288.4ZM286.0 290.8 284.5 290.8 283.2 290.7 282.0 290.4 280.8 289.9 279.5 289.2 278.2 288.3 277.2 287.4 276.2 286.3 275.3 285.0 274.5 283.7 273.8 282.2 273.0 280.4 272.4 278.8 271.9 276.8 271.5 274.8 271.2 272.8 271.0 270.5 271.0 267.8 271.0 265.2 271.2 262.8 271.5 260.2 272.0 257.5 272.6 255.0 273.2 252.6 274.0 250.5 274.8 248.7 275.8 246.8 276.6 245.5 277.5 244.5 278.5 243.7 279.5 243.1 280.8 242.8 281.5 242.8 282.5 242.8 284.2 243.3 286.0 244.2 288.0 245.6 290.0 247.5 291.8 249.5 293.5 252.0 295.2 254.8 296.5 257.2 297.5 259.5 298.5 262.0 299.4 264.8 300.5 269.0 302.2 277.0 303.8 282.8 304.2 284.8 304.2 286.0 304.0 287.2 303.5 288.0 303.1 288.2 302.8 288.4 302.2 288.5 301.5 288.6 297.8 288.1 295.8 288.2 293.5 288.7 288.2 290.3Z"/>
<path fill="#66ff90" d="M207.8 232.8 206.0 232.9 204.2 232.9 202.5 232.6 200.8 232.2 199.2 231.7 197.9 231.0 196.8 230.2 195.5 229.1 194.5 227.9 193.5 226.5 192.7 225.0 192.0 223.2 191.2 221.2 190.7 219.0 190.1 216.5 189.7 214.0 189.5 211.2 189.3 208.2 189.3 205.5 189.5 202.8 189.8 200.2 190.2 198.0 190.8 196.0 191.5 194.2 192.3 192.8 193.3 191.2 194.5 189.8 195.8 188.8 197.2 187.8 198.8 187.1 200.2 186.6 202.0 186.3 203.5 186.2 205.2 186.3 207.0 186.6 208.5 187.0 210.0 187.7 211.2 188.4 212.5 189.3 213.8 190.5 214.9 191.8 215.8 193.0 216.8 194.7 217.5 196.3 218.2 198.2 218.8 200.2 219.2 202.2 219.5 204.4 219.8 207.2 219.9 210.0 219.9 212.5 219.8 215.0 219.4 217.8 218.9 220.2 218.3 222.5 217.6 224.5 216.8 226.3 215.8 227.9 214.8 229.2 213.5 230.3 212.2 231.2 211.0 231.9 209.5 232.4ZM341.0 287.3 339.8 287.4 338.2 287.4 336.8 287.0 335.5 286.6 334.2 285.9 333.0 285.0 331.8 284.0 330.8 282.8 329.8 281.5 328.9 280.0 328.2 278.5 327.5 276.8 327.0 275.0 326.6 273.0 326.3 271.0 326.2 269.0 326.2 266.8 326.3 264.2 326.6 262.0 327.1 259.2 327.7 257.0 328.4 254.8 329.1 252.8 330.0 250.9 331.0 249.1 332.0 247.7 333.2 246.2 334.3 245.2 335.5 244.4 336.8 243.7 338.0 243.3 339.5 243.1 340.8 243.1 342.0 243.4 343.2 243.9 344.2 244.5 345.5 245.4 346.5 246.4 347.7 247.8 348.7 249.2 349.8 250.9 350.8 252.9 351.7 255.2 352.5 257.2 353.1 259.2 353.5 261.2 353.8 263.2 353.9 265.0 353.9 266.8 353.8 268.8 353.5 270.5 353.1 272.2 352.5 274.2 351.8 276.0 351.0 277.8 350.1 279.5 349.0 281.2 348.0 282.6 347.0 283.8 345.8 284.9 344.6 285.8 343.5 286.4 342.2 286.9ZM401.0 257.3 399.5 257.4 397.8 257.3 396.2 257.0 395.0 256.4 394.0 255.7 393.1 254.8 392.6 253.8 392.4 252.5 392.4 251.0 392.9 249.5 393.7 248.0 394.8 246.6 396.0 245.4 397.5 244.5 398.8 244.0 400.2 243.7 401.5 243.8 402.5 244.1 403.5 244.6 404.5 245.5 405.3 246.5 405.9 247.8 406.2 249.1 406.4 250.5 406.4 251.8 406.1 253.0 405.7 254.0 405.0 255.0 404.2 255.8 403.2 256.4 402.2 256.9ZM286.2 287.0 285.0 287.1 284.0 287.0 282.8 286.7 281.8 286.3 280.8 285.8 279.8 285.1 278.8 284.3 277.8 283.3 277.0 282.2 276.2 281.0 275.5 279.8 274.8 278.2 274.3 276.8 273.8 275.2 273.2 272.0 273.1 270.2 273.0 268.0 273.0 266.0 273.1 263.8 273.4 261.5 273.8 259.5 274.3 257.5 274.8 255.5 275.5 253.7 276.2 252.0 277.0 250.7 277.8 249.6 278.5 248.8 279.5 248.0 280.2 247.6 281.2 247.3 282.5 247.3 283.8 247.5 285.0 247.9 286.5 248.8 287.8 249.8 289.2 251.1 290.5 252.5 291.8 254.1 293.0 256.0 294.0 257.7 295.0 259.7 295.8 261.8 296.6 263.8 297.2 266.0 297.7 268.2 298.1 270.8 298.4 274.5 298.3 277.8 298.2 279.0 298.0 280.0 297.6 281.0 297.2 281.8 296.6 282.5 295.7 283.2 294.5 284.0 292.6 285.0 290.9 285.8 289.2 286.4 287.8 286.8Z"/>
<path fill="#90ff66" d="M207.2 230.3 205.8 230.5 204.2 230.5 202.8 230.3 201.2 230.0 199.8 229.4 198.5 228.7 197.2 227.9 196.2 227.0 195.2 225.8 194.2 224.3 193.5 222.9 192.8 221.2 192.2 219.5 191.6 217.5 191.2 215.5 190.9 213.2 190.6 210.8 190.5 208.2 190.6 206.0 190.7 203.8 191.0 201.8 191.4 199.8 192.0 197.9 192.7 196.2 193.5 194.8 194.4 193.5 195.2 192.5 196.5 191.4 197.8 190.5 199.2 189.8 200.8 189.3 202.2 189.0 203.8 188.9 205.2 189.0 206.8 189.3 208.0 189.7 209.5 190.3 210.8 191.1 212.0 192.0 213.0 192.9 214.0 194.1 215.0 195.5 215.8 196.8 216.5 198.5 217.0 200.0 217.5 201.8 218.0 203.8 218.3 205.8 218.5 208.2 218.6 210.5 218.5 212.8 218.4 214.8 218.0 217.0 217.6 219.0 217.0 221.0 216.3 222.8 215.5 224.3 214.5 225.8 213.5 227.0 212.5 227.9 211.2 228.8 210.0 229.5 208.8 229.9ZM341.2 285.8 340.0 286.0 338.8 285.9 337.5 285.7 336.2 285.3 335.0 284.7 333.8 283.9 332.7 283.0 331.6 281.8 330.7 280.5 329.8 279.0 329.0 277.5 328.5 276.0 328.0 274.2 327.6 272.5 327.3 270.8 327.1 268.8 327.1 266.5 327.3 264.2 327.5 262.0 327.9 259.8 328.4 257.8 329.0 255.8 329.8 253.8 330.6 252.0 331.5 250.4 332.5 248.9 333.5 247.7 334.8 246.6 335.8 245.8 337.0 245.2 338.2 244.8 339.5 244.6 340.8 244.6 341.8 244.9 343.0 245.3 344.0 245.9 345.0 246.6 346.0 247.5 347.0 248.6 348.0 250.0 349.0 251.6 349.9 253.2 350.8 255.2 351.5 257.2 352.1 259.2 352.5 261.0 352.8 263.0 353.0 264.8 353.0 266.5 352.9 268.2 352.6 270.0 352.3 271.5 351.8 273.2 351.2 274.9 350.6 276.5 349.8 278.1 348.8 279.7 347.9 281.0 346.8 282.3 345.8 283.3 344.8 284.1 343.5 284.9 342.5 285.4ZM398.2 252.3 397.9 252.2 397.5 252.0 397.3 251.5 397.4 251.0 397.6 250.8 398.0 250.5 398.2 250.4 398.6 250.5 398.9 250.8 399.1 251.2 399.0 251.8 398.9 252.0 398.5 252.2ZM286.2 283.0 285.2 283.1 284.2 283.0 283.2 282.8 282.5 282.5 281.5 282.0 280.8 281.6 279.2 280.2 277.9 278.5 277.2 277.4 276.7 276.2 275.8 273.8 275.2 271.0 275.0 268.0 275.2 264.8 275.7 261.5 276.5 258.5 277.1 257.0 277.7 255.8 278.3 254.8 279.0 253.8 279.8 253.1 280.5 252.5 281.2 252.2 282.0 252.0 283.0 252.0 284.0 252.1 285.0 252.5 286.0 253.0 287.0 253.6 288.0 254.4 289.0 255.4 290.0 256.5 290.9 257.8 291.8 259.1 292.5 260.5 293.2 262.0 293.8 263.5 294.4 265.2 294.8 267.0 295.0 268.5 295.2 271.2 295.2 272.8 295.0 274.0 294.5 276.2 294.1 277.2 293.6 278.2 293.0 279.1 292.2 280.0 291.4 280.8 290.5 281.4 289.5 282.0 288.5 282.4 287.5 282.8Z"/>
<path fill="#baff3c" d="M206.2 227.8 205.0 227.9 203.5 227.8 202.2 227.6 201.0 227.3 199.8 226.7 198.8 226.1 197.8 225.3 196.8 224.4 195.8 223.2 195.0 222.0 194.4 220.8 193.7 219.2 193.1 217.5 192.7 215.8 192.3 213.8 192.1 212.0 192.0 210.0 191.9 208.0 192.0 206.0 192.2 204.2 192.5 202.5 193.0 200.8 193.5 199.3 194.1 198.0 194.8 196.8 195.8 195.5 196.8 194.5 197.8 193.7 199.0 193.0 200.2 192.4 201.5 192.0 202.8 191.8 204.0 191.8 205.5 191.9 206.8 192.2 208.0 192.6 209.2 193.2 210.4 194.0 211.5 194.9 212.5 195.9 213.4 197.0 214.2 198.2 214.8 199.5 215.5 201.0 215.9 202.5 216.3 204.0 216.6 205.8 216.9 207.8 217.0 209.8 217.0 211.5 216.9 213.2 216.7 215.0 216.3 216.8 215.9 218.5 215.2 220.2 214.6 221.5 213.9 222.8 213.0 223.9 212.0 225.0 211.0 225.8 210.0 226.5 208.8 227.1 207.5 227.5ZM341.2 284.3 340.0 284.5 338.8 284.4 337.5 284.2 336.5 283.9 335.3 283.2 334.2 282.5 333.2 281.7 332.2 280.6 331.3 279.2 330.6 278.0 329.9 276.5 329.3 275.0 328.9 273.5 328.5 271.8 328.2 270.0 328.1 268.2 328.1 266.2 328.2 264.2 328.4 262.2 328.8 260.2 329.2 258.2 329.8 256.5 330.5 254.6 331.2 252.9 332.1 251.5 333.0 250.2 334.0 249.0 335.0 248.1 336.0 247.3 337.2 246.7 338.2 246.3 339.5 246.1 340.8 246.2 341.8 246.4 342.8 246.8 343.8 247.3 344.8 248.0 345.8 249.0 346.7 250.0 347.5 251.1 348.4 252.5 349.2 254.2 350.0 256.0 350.7 257.8 351.2 259.5 351.6 261.2 351.9 263.0 352.0 264.8 352.0 266.5 351.9 268.0 351.7 269.8 351.4 271.2 351.0 272.8 350.4 274.2 349.8 275.8 349.1 277.2 348.2 278.6 347.4 279.8 346.5 280.9 345.5 281.9 344.5 282.7 343.5 283.4 342.5 283.9ZM286.2 278.8 285.5 278.9 284.8 279.0 283.5 278.8 282.8 278.5 282.0 278.1 280.8 277.2 279.5 275.8 278.7 274.2 278.0 272.5 277.5 270.5 277.2 268.2 277.3 266.0 277.6 263.8 278.2 261.7 279.0 260.0 280.0 258.5 280.5 258.0 281.2 257.4 281.8 257.1 282.5 256.9 283.2 256.8 284.0 256.9 284.8 257.0 285.5 257.3 287.0 258.2 288.4 259.5 289.7 261.2 290.7 263.0 291.5 265.0 292.0 267.2 292.3 269.2 292.2 271.2 291.8 273.0 291.1 274.8 290.2 276.2 289.0 277.4 287.8 278.2Z"/>
<path fill="#e4ff13" d="M205.5 225.0 204.2 225.1 203.2 225.0 202.2 224.8 201.2 224.4 200.2 224.0 199.2 223.3 198.2 222.5 197.5 221.7 196.8 220.8 196.0 219.6 194.9 217.2 194.4 215.8 194.1 214.2 193.7 211.2 193.6 208.0 193.7 206.5 193.9 205.0 194.2 203.5 194.6 202.2 195.1 201.0 195.8 199.8 196.5 198.7 197.2 197.8 198.1 197.0 199.0 196.3 200.0 195.7 201.0 195.3 202.0 195.0 203.2 194.8 204.2 194.8 205.5 195.0 206.8 195.3 207.8 195.7 208.8 196.2 209.8 196.9 210.7 197.8 211.5 198.6 212.2 199.6 212.9 200.8 213.5 201.9 214.0 203.2 214.4 204.5 214.8 206.0 215.1 209.0 215.2 210.5 215.2 212.0 215.0 213.5 214.8 215.0 214.0 217.5 213.5 218.8 212.8 220.0 212.1 221.0 211.3 222.0 210.5 222.8 209.6 223.5 208.7 224.0 207.6 224.5 206.5 224.8ZM341.0 282.8 340.0 282.9 338.8 282.9 337.8 282.7 336.5 282.2 335.5 281.7 334.5 280.9 333.5 280.0 332.8 279.1 332.0 278.0 331.3 276.8 330.7 275.5 330.2 274.0 329.7 272.5 329.4 270.8 329.2 269.2 329.1 267.5 329.1 265.8 329.2 264.0 329.4 262.2 329.8 260.2 330.2 258.5 330.7 256.8 331.3 255.2 332.0 253.8 332.8 252.5 333.7 251.2 334.5 250.3 335.5 249.4 336.5 248.7 337.5 248.2 338.5 247.9 339.8 247.7 340.8 247.8 341.8 248.0 342.8 248.4 343.8 249.0 344.8 249.7 345.5 250.5 346.5 251.7 347.2 252.7 348.0 254.0 348.8 255.5 349.4 257.0 350.0 258.8 350.4 260.5 350.7 262.0 351.0 265.0 351.0 266.5 350.9 268.0 350.7 269.5 350.4 271.0 350.0 272.5 349.5 273.9 348.2 276.5 347.5 277.7 346.8 278.8 345.8 279.9 344.9 280.8 344.0 281.5 343.0 282.1 342.0 282.5ZM285.8 274.3 284.8 274.5 284.0 274.4 283.0 274.1 282.2 273.6 281.5 272.8 281.0 272.0 280.5 271.0 280.1 269.8 280.0 268.5 280.0 267.0 280.2 265.8 280.5 264.7 281.0 263.6 281.8 262.6 282.5 262.1 283.2 261.8 284.0 261.8 285.0 262.0 286.0 262.5 286.8 263.1 287.5 264.1 288.1 265.0 288.5 266.0 288.8 267.2 289.0 268.5 288.9 269.5 288.8 270.5 288.5 271.5 288.0 272.4 287.3 273.2 286.5 273.9Z"/>
<path fill="#ffde00" d="M205.2 221.8 204.2 221.8 203.5 221.8 202.5 221.6 201.8 221.3 200.2 220.5 199.5 219.9 198.8 219.1 197.6 217.5 196.7 215.5 196.0 213.2 195.7 211.0 195.7 208.5 196.0 206.2 196.6 204.0 197.5 202.2 198.6 200.8 199.2 200.1 200.0 199.5 200.9 199.0 201.8 198.6 202.5 198.4 203.5 198.3 204.2 198.3 205.2 198.4 206.2 198.6 207.0 198.9 208.5 199.9 209.2 200.5 209.9 201.2 211.0 202.8 211.9 204.8 212.6 207.0 212.9 209.2 212.9 211.5 212.6 213.8 212.0 215.8 211.0 217.8 209.9 219.2 209.2 219.9 208.5 220.5 207.0 221.3 206.2 221.6ZM340.5 281.3 339.5 281.3 338.5 281.2 337.5 281.0 336.5 280.5 335.7 280.0 334.8 279.3 334.0 278.5 333.2 277.6 332.6 276.5 332.0 275.5 331.5 274.2 331.0 272.9 330.6 271.5 330.4 270.0 330.1 267.0 330.1 265.5 330.2 263.8 330.7 260.5 331.6 257.5 332.2 256.0 332.8 254.8 333.5 253.6 334.2 252.5 335.0 251.7 336.0 250.8 336.8 250.2 337.8 249.8 338.8 249.5 339.8 249.4 340.8 249.4 341.8 249.7 342.6 250.0 343.5 250.5 344.4 251.2 345.2 252.1 346.7 254.0 348.0 256.4 348.6 257.8 349.1 259.2 349.5 260.8 349.8 262.2 349.9 263.8 350.0 265.2 350.0 266.8 349.9 268.2 349.3 271.0 348.5 273.5 347.9 274.8 347.3 276.0 346.5 277.1 345.8 278.1 344.9 279.0 344.0 279.8 343.2 280.3 342.2 280.8 341.5 281.1Z"/>
<path fill="#ffae00" d="M205.2 217.5 204.0 217.6 203.0 217.4 202.0 217.0 201.0 216.3 200.1 215.2 199.5 214.1 199.0 212.8 198.7 211.2 198.6 209.8 198.8 208.2 199.2 206.8 199.7 205.5 200.5 204.4 201.5 203.5 202.5 203.0 203.5 202.7 204.5 202.7 205.6 203.0 206.6 203.5 207.5 204.2 208.3 205.2 209.0 206.5 209.5 208.0 209.8 209.3 209.8 210.8 209.7 212.2 209.3 213.5 208.8 214.8 208.1 215.8 207.2 216.5 206.2 217.2ZM340.8 279.5 339.8 279.6 339.0 279.6 338.0 279.3 337.2 279.0 336.5 278.6 335.6 278.0 334.8 277.2 334.2 276.5 333.5 275.5 333.0 274.6 332.5 273.5 332.1 272.2 331.5 269.8 331.2 267.0 331.2 264.2 331.7 261.2 332.1 259.8 332.5 258.4 333.5 256.0 334.1 255.0 334.8 254.0 335.5 253.2 336.3 252.5 337.2 251.9 338.0 251.5 338.9 251.2 339.8 251.1 340.8 251.2 341.5 251.4 342.2 251.7 343.0 252.1 343.8 252.6 344.5 253.3 345.2 254.2 346.0 255.2 347.2 257.5 348.1 259.8 348.6 262.2 348.9 265.0 348.9 267.5 348.4 270.0 347.8 272.3 346.7 274.5 345.5 276.3 344.8 277.2 344.0 277.9 343.2 278.5 342.5 278.9 341.7 279.2Z"/>
<path fill="#ff7e00" d="M341.0 277.5 340.2 277.7 339.5 277.7 338.8 277.6 338.0 277.4 337.2 277.0 336.5 276.5 335.8 275.8 335.2 275.2 334.7 274.5 334.1 273.5 333.2 271.6 332.7 269.5 332.4 267.0 332.4 264.5 332.8 262.0 333.5 259.5 334.3 257.5 334.9 256.5 335.5 255.6 336.8 254.4 337.5 253.8 338.2 253.5 339.0 253.2 339.8 253.1 340.5 253.1 341.2 253.3 342.5 253.9 343.8 254.8 345.0 256.3 346.0 258.0 346.9 260.2 347.5 262.5 347.7 264.8 347.7 267.0 347.4 269.0 346.8 271.0 346.0 273.0 345.0 274.6 343.8 276.0 342.5 276.9 341.8 277.3Z"/>
<path fill="#ff4e00" d="M340.8 275.3 339.5 275.4 338.2 275.1 337.6 274.8 337.0 274.3 336.0 273.2 335.2 272.0 334.5 270.3 334.1 268.5 333.9 266.8 333.9 264.8 334.1 262.8 334.7 260.8 335.4 259.0 336.2 257.6 337.4 256.5 338.5 255.8 339.0 255.6 339.8 255.5 340.3 255.5 341.0 255.6 342.0 256.0 343.0 256.8 344.1 258.0 344.9 259.5 345.5 261.0 346.0 262.8 346.3 264.8 346.3 266.5 346.0 268.2 345.6 270.0 344.9 271.5 344.0 273.0 343.0 274.1 342.0 274.8Z"/>
<path fill="#ff1e00" d="M341.0 272.0 340.0 272.2 339.2 272.2 338.5 271.8 337.7 271.2 337.0 270.3 336.5 269.3 336.1 268.0 335.9 266.8 335.8 265.5 336.0 264.0 336.3 262.8 336.8 261.5 337.3 260.5 338.0 259.7 338.8 259.2 339.2 259.0 339.8 258.8 340.5 258.9 341.2 259.1 342.0 259.6 342.8 260.5 343.2 261.3 343.8 262.4 344.0 263.5 344.2 264.8 344.3 266.0 344.1 267.2 343.9 268.2 343.5 269.3 343.0 270.2 342.4 271.0 341.8 271.6Z"/>
</g>
<rect class="sp" x="88.50" y="8.60" width="439.95" height="624.70"/>
<path class="sp" d="M84.90 8.60H88.50"/><text class="yt" x="80.8" y="16.00">1.100</text>
<path class="sp" d="M84.90 86.69H88.50"/><text class="yt" x="80.8" y="94.09">1.075</text>
<path class="sp" d="M84.90 164.77H88.50"/><text class="yt" x="80.8" y="172.17">1.050</text>
<path class="sp" d="M84.90 242.86H88.50"/><text class="yt" x="80.8" y="250.26">1.025</text>
<path class="sp" d="M84.90 320.95H88.50"/><text class="yt" x="80.8" y="328.35">1.000</text>
<path class="sp" d="M84.90 399.04H88.50"/><text class="yt" x="80.8" y="406.44">0.975</text>
<path class="sp" d="M84.90 477.12H88.50"/><text class="yt" x="80.8" y="484.52">0.950</text>
<path class="sp" d="M84.90 555.21H88.50"/><text class="yt" x="80.8" y="562.61">0.925</text>
<path class="sp" d="M84.90 633.30H88.50"/><text class="yt" x="80.8" y="640.70">0.900</text>
<path class="sp" d="M88.50 633.30V636.90"/><text class="xt" x="88.50" y="653.25">13:35</text>
<path class="sp" d="M176.49 633.30V636.90"/><text class="xt" x="176.49" y="653.25">14:59</text>
<path class="sp" d="M264.48 633.30V636.90"/><text class="xt" x="264.48" y="653.25">16:22</text>
<path class="sp" d="M352.47 633.30V636.90"/><text class="xt" x="352.47" y="653.25">17:46</text>
<path class="sp" d="M440.46 633.30V636.90"/><text class="xt" x="440.46" y="653.25">19:09</text>
<path class="sp" d="M528.45 633.30V636.90"/><text class="xt" x="528.45" y="653.25">20:33</text>
<text transform="translate(308.1 676.95) scale(1 0.955)" font-size="20.62" text-anchor="middle">time (from pass start)</text>
<text transform="translate(17.3 320.95) rotate(-90) scale(1 0.99)" font-size="20.5" text-anchor="middle">distance (AU)</text>
<text class="ttl" x="175.8" y="79.4">BepiColombo 2021 DOY 075</text>
<text class="ttl" x="175.8" y="102.0">up- and downlink plasma ccf</text>
<rect x="555.60" y="601.68" width="31.60" height="31.53" fill="#00009b"/><rect x="555.60" y="570.45" width="31.60" height="31.53" fill="#0000d6"/><rect x="555.60" y="539.23" width="31.60" height="31.53" fill="#0000ff"/><rect x="555.60" y="508.00" width="31.60" height="31.53" fill="#0030ff"/><rect x="555.60" y="476.78" width="31.60" height="31.53" fill="#0064ff"/><rect x="555.60" y="445.55" width="31.60" height="31.53" fill="#0098ff"/><rect x="555.60" y="414.32" width="31.60" height="31.53" fill="#00ccff"/><rect x="555.60" y="383.10" width="31.60" height="31.53" fill="#16ffe1"/><rect x="555.60" y="351.88" width="31.60" height="31.53" fill="#3cffba"/><rect x="555.60" y="320.65" width="31.60" height="31.53" fill="#66ff90"/><rect x="555.60" y="289.43" width="31.60" height="31.53" fill="#90ff66"/><rect x="555.60" y="258.20" width="31.60" height="31.53" fill="#baff3c"/><rect x="555.60" y="226.98" width="31.60" height="31.53" fill="#e4ff13"/><rect x="555.60" y="195.75" width="31.60" height="31.53" fill="#ffde00"/><rect x="555.60" y="164.53" width="31.60" height="31.53" fill="#ffae00"/><rect x="555.60" y="133.30" width="31.60" height="31.53" fill="#ff7e00"/><rect x="555.60" y="102.08" width="31.60" height="31.53" fill="#ff4e00"/><rect x="555.60" y="70.85" width="31.60" height="31.53" fill="#ff1e00"/><rect x="555.60" y="39.63" width="31.60" height="31.53" fill="#d60000"/><rect x="555.60" y="8.70" width="31.60" height="31.23" fill="#9b0000"/>
<rect class="sp" x="555.60" y="8.70" width="31.60" height="624.50"/>
<path class="sp" d="M587.20 633.20H590.80"/><text class="ct" x="594.5" y="640.70">0.3000</text>
<path class="sp" d="M587.20 539.53H590.80"/><text class="ct" x="594.5" y="547.03">0.3525</text>
<path class="sp" d="M587.20 445.85H590.80"/><text class="ct" x="594.5" y="453.35">0.4050</text>
<path class="sp" d="M587.20 352.18H590.80"/><text class="ct" x="594.5" y="359.68">0.4575</text>
<path class="sp" d="M587.20 258.50H590.80"/><text class="ct" x="594.5" y="266.00">0.5100</text>
<path class="sp" d="M587.20 164.82H590.80"/><text class="ct" x="594.5" y="172.32">0.5625</text>
<path class="sp" d="M587.20 71.15H590.80"/><text class="ct" x="594.5" y="78.65">0.6150</text>
<text transform="translate(684.1 321.7) rotate(-90) scale(1 1.02)" font-size="19.55" text-anchor="middle">Value of cross-correlation</text>
</svg>
</body></html>
